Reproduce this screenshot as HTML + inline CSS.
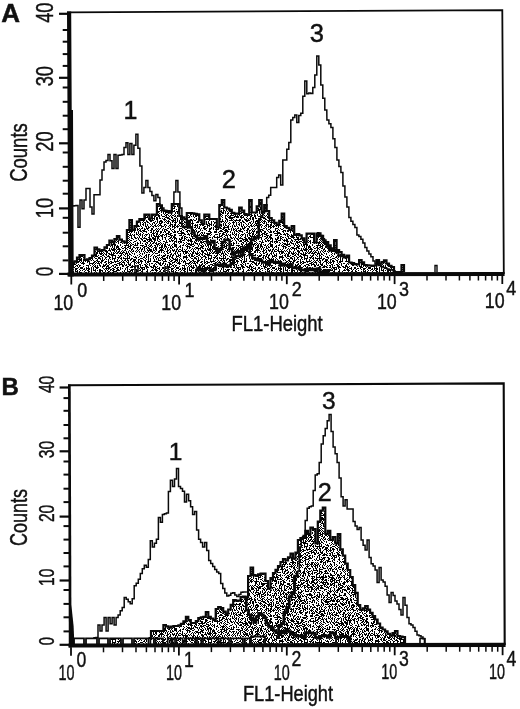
<!DOCTYPE html><html><head><meta charset="utf-8"><title>Figure</title>
<style>html,body{margin:0;padding:0;background:#fff}svg{display:block}text{font-family:"Liberation Sans",sans-serif;fill:#111;stroke:#111;stroke-width:0.45px}</style></head><body>
<svg width="520" height="709" viewBox="0 0 520 709">
<defs><pattern id="st" width="96" height="96" patternUnits="userSpaceOnUse"><rect width="96" height="96" fill="#fff"/><path fill="#000" d="M0 0h2v1h-2zM3 0h1v1h-1zM5 0h2v1h-2zM8 0h1v1h-1zM10 0h2v1h-2zM14 0h2v1h-2zM19 0h1v1h-1zM21 0h1v1h-1zM23 0h4v1h-4zM28 0h1v1h-1zM31 0h1v1h-1zM33 0h3v1h-3zM37 0h2v1h-2zM40 0h2v1h-2zM44 0h1v1h-1zM49 0h1v1h-1zM51 0h1v1h-1zM54 0h1v1h-1zM56 0h1v1h-1zM61 0h1v1h-1zM65 0h1v1h-1zM68 0h1v1h-1zM70 0h1v1h-1zM75 0h1v1h-1zM78 0h1v1h-1zM80 0h3v1h-3zM84 0h2v1h-2zM88 0h1v1h-1zM94 0h1v1h-1zM0 1h1v1h-1zM3 1h4v1h-4zM9 1h2v1h-2zM12 1h1v1h-1zM16 1h1v1h-1zM19 1h1v1h-1zM24 1h1v1h-1zM26 1h1v1h-1zM28 1h11v1h-11zM41 1h5v1h-5zM48 1h1v1h-1zM50 1h4v1h-4zM55 1h2v1h-2zM59 1h1v1h-1zM61 1h1v1h-1zM66 1h3v1h-3zM72 1h2v1h-2zM80 1h1v1h-1zM82 1h5v1h-5zM89 1h1v1h-1zM93 1h3v1h-3zM0 2h2v1h-2zM5 2h1v1h-1zM8 2h1v1h-1zM13 2h2v1h-2zM16 2h1v1h-1zM19 2h1v1h-1zM23 2h3v1h-3zM28 2h1v1h-1zM32 2h1v1h-1zM34 2h2v1h-2zM40 2h1v1h-1zM43 2h4v1h-4zM48 2h1v1h-1zM50 2h1v1h-1zM52 2h1v1h-1zM56 2h1v1h-1zM58 2h1v1h-1zM61 2h1v1h-1zM63 2h2v1h-2zM66 2h1v1h-1zM70 2h1v1h-1zM74 2h1v1h-1zM76 2h2v1h-2zM79 2h1v1h-1zM83 2h1v1h-1zM85 2h1v1h-1zM88 2h1v1h-1zM90 2h1v1h-1zM95 2h1v1h-1zM3 3h2v1h-2zM6 3h3v1h-3zM12 3h1v1h-1zM15 3h1v1h-1zM18 3h1v1h-1zM20 3h1v1h-1zM24 3h1v1h-1zM26 3h4v1h-4zM31 3h1v1h-1zM33 3h3v1h-3zM37 3h2v1h-2zM42 3h3v1h-3zM46 3h2v1h-2zM51 3h2v1h-2zM56 3h2v1h-2zM59 3h2v1h-2zM64 3h1v1h-1zM66 3h1v1h-1zM68 3h2v1h-2zM72 3h2v1h-2zM75 3h7v1h-7zM83 3h1v1h-1zM85 3h5v1h-5zM92 3h1v1h-1zM95 3h1v1h-1zM1 4h1v1h-1zM4 4h1v1h-1zM8 4h1v1h-1zM12 4h5v1h-5zM18 4h3v1h-3zM24 4h3v1h-3zM28 4h1v1h-1zM30 4h1v1h-1zM34 4h1v1h-1zM36 4h3v1h-3zM40 4h1v1h-1zM42 4h1v1h-1zM44 4h3v1h-3zM48 4h4v1h-4zM58 4h2v1h-2zM61 4h1v1h-1zM64 4h1v1h-1zM70 4h1v1h-1zM72 4h1v1h-1zM80 4h5v1h-5zM90 4h2v1h-2zM94 4h1v1h-1zM1 5h1v1h-1zM3 5h3v1h-3zM7 5h1v1h-1zM10 5h1v1h-1zM12 5h1v1h-1zM17 5h3v1h-3zM21 5h1v1h-1zM23 5h3v1h-3zM29 5h1v1h-1zM31 5h1v1h-1zM33 5h1v1h-1zM35 5h1v1h-1zM38 5h1v1h-1zM42 5h3v1h-3zM46 5h1v1h-1zM48 5h1v1h-1zM51 5h1v1h-1zM53 5h1v1h-1zM56 5h1v1h-1zM58 5h3v1h-3zM62 5h5v1h-5zM68 5h1v1h-1zM71 5h1v1h-1zM75 5h2v1h-2zM80 5h1v1h-1zM82 5h3v1h-3zM86 5h1v1h-1zM88 5h2v1h-2zM91 5h2v1h-2zM5 6h1v1h-1zM7 6h1v1h-1zM10 6h2v1h-2zM13 6h1v1h-1zM15 6h2v1h-2zM19 6h1v1h-1zM21 6h1v1h-1zM23 6h4v1h-4zM28 6h2v1h-2zM32 6h8v1h-8zM43 6h1v1h-1zM46 6h4v1h-4zM51 6h1v1h-1zM55 6h3v1h-3zM59 6h1v1h-1zM63 6h2v1h-2zM67 6h1v1h-1zM69 6h1v1h-1zM75 6h3v1h-3zM84 6h1v1h-1zM86 6h1v1h-1zM88 6h1v1h-1zM91 6h3v1h-3zM0 7h2v1h-2zM4 7h2v1h-2zM7 7h2v1h-2zM13 7h3v1h-3zM18 7h2v1h-2zM22 7h2v1h-2zM26 7h3v1h-3zM31 7h1v1h-1zM34 7h2v1h-2zM37 7h1v1h-1zM39 7h2v1h-2zM42 7h1v1h-1zM44 7h3v1h-3zM50 7h1v1h-1zM52 7h1v1h-1zM54 7h3v1h-3zM63 7h2v1h-2zM67 7h1v1h-1zM69 7h7v1h-7zM77 7h1v1h-1zM79 7h2v1h-2zM83 7h2v1h-2zM86 7h1v1h-1zM88 7h2v1h-2zM91 7h1v1h-1zM95 7h1v1h-1zM0 8h2v1h-2zM3 8h1v1h-1zM6 8h2v1h-2zM10 8h1v1h-1zM12 8h3v1h-3zM19 8h2v1h-2zM24 8h2v1h-2zM27 8h1v1h-1zM29 8h1v1h-1zM35 8h3v1h-3zM39 8h2v1h-2zM42 8h3v1h-3zM46 8h1v1h-1zM50 8h3v1h-3zM55 8h2v1h-2zM63 8h1v1h-1zM65 8h1v1h-1zM67 8h1v1h-1zM69 8h4v1h-4zM75 8h1v1h-1zM78 8h2v1h-2zM83 8h1v1h-1zM88 8h4v1h-4zM95 8h1v1h-1zM1 9h2v1h-2zM5 9h1v1h-1zM8 9h5v1h-5zM15 9h3v1h-3zM19 9h3v1h-3zM24 9h2v1h-2zM29 9h2v1h-2zM32 9h3v1h-3zM36 9h1v1h-1zM38 9h1v1h-1zM42 9h2v1h-2zM45 9h2v1h-2zM48 9h1v1h-1zM50 9h1v1h-1zM52 9h3v1h-3zM58 9h1v1h-1zM60 9h1v1h-1zM62 9h2v1h-2zM66 9h1v1h-1zM70 9h2v1h-2zM74 9h2v1h-2zM77 9h1v1h-1zM81 9h1v1h-1zM83 9h1v1h-1zM87 9h2v1h-2zM90 9h1v1h-1zM92 9h2v1h-2zM0 10h1v1h-1zM3 10h1v1h-1zM5 10h1v1h-1zM9 10h1v1h-1zM12 10h1v1h-1zM14 10h1v1h-1zM16 10h1v1h-1zM18 10h2v1h-2zM22 10h2v1h-2zM25 10h2v1h-2zM28 10h1v1h-1zM30 10h2v1h-2zM33 10h1v1h-1zM36 10h2v1h-2zM39 10h1v1h-1zM41 10h1v1h-1zM46 10h1v1h-1zM48 10h1v1h-1zM51 10h1v1h-1zM54 10h2v1h-2zM57 10h1v1h-1zM59 10h1v1h-1zM61 10h1v1h-1zM64 10h2v1h-2zM67 10h4v1h-4zM74 10h1v1h-1zM76 10h1v1h-1zM79 10h1v1h-1zM84 10h1v1h-1zM87 10h1v1h-1zM89 10h1v1h-1zM92 10h1v1h-1zM94 10h2v1h-2zM1 11h1v1h-1zM3 11h1v1h-1zM8 11h4v1h-4zM13 11h1v1h-1zM16 11h2v1h-2zM19 11h6v1h-6zM27 11h1v1h-1zM29 11h2v1h-2zM32 11h3v1h-3zM38 11h3v1h-3zM43 11h1v1h-1zM45 11h1v1h-1zM48 11h1v1h-1zM50 11h1v1h-1zM52 11h3v1h-3zM56 11h1v1h-1zM59 11h2v1h-2zM62 11h1v1h-1zM65 11h4v1h-4zM72 11h1v1h-1zM75 11h1v1h-1zM77 11h6v1h-6zM87 11h1v1h-1zM89 11h1v1h-1zM92 11h1v1h-1zM95 11h1v1h-1zM1 12h3v1h-3zM7 12h1v1h-1zM9 12h2v1h-2zM16 12h1v1h-1zM20 12h1v1h-1zM23 12h2v1h-2zM26 12h1v1h-1zM28 12h3v1h-3zM32 12h4v1h-4zM40 12h1v1h-1zM42 12h1v1h-1zM46 12h1v1h-1zM50 12h4v1h-4zM59 12h3v1h-3zM63 12h2v1h-2zM66 12h3v1h-3zM70 12h2v1h-2zM73 12h1v1h-1zM76 12h1v1h-1zM78 12h1v1h-1zM80 12h1v1h-1zM83 12h1v1h-1zM85 12h1v1h-1zM87 12h3v1h-3zM92 12h1v1h-1zM94 12h1v1h-1zM0 13h1v1h-1zM2 13h1v1h-1zM4 13h1v1h-1zM6 13h2v1h-2zM9 13h2v1h-2zM12 13h1v1h-1zM17 13h1v1h-1zM19 13h1v1h-1zM21 13h1v1h-1zM23 13h3v1h-3zM27 13h2v1h-2zM30 13h1v1h-1zM36 13h3v1h-3zM42 13h1v1h-1zM46 13h1v1h-1zM49 13h3v1h-3zM54 13h4v1h-4zM59 13h3v1h-3zM64 13h1v1h-1zM66 13h1v1h-1zM71 13h2v1h-2zM74 13h2v1h-2zM77 13h1v1h-1zM81 13h1v1h-1zM83 13h2v1h-2zM86 13h1v1h-1zM89 13h1v1h-1zM92 13h2v1h-2zM5 14h2v1h-2zM8 14h1v1h-1zM13 14h1v1h-1zM15 14h1v1h-1zM17 14h1v1h-1zM20 14h1v1h-1zM23 14h1v1h-1zM26 14h1v1h-1zM28 14h1v1h-1zM31 14h2v1h-2zM36 14h1v1h-1zM40 14h1v1h-1zM42 14h1v1h-1zM44 14h1v1h-1zM46 14h1v1h-1zM48 14h3v1h-3zM52 14h1v1h-1zM54 14h1v1h-1zM56 14h3v1h-3zM62 14h1v1h-1zM64 14h3v1h-3zM70 14h1v1h-1zM72 14h1v1h-1zM74 14h1v1h-1zM78 14h2v1h-2zM81 14h1v1h-1zM83 14h1v1h-1zM85 14h3v1h-3zM89 14h2v1h-2zM92 14h3v1h-3zM0 15h1v1h-1zM3 15h1v1h-1zM6 15h1v1h-1zM10 15h1v1h-1zM13 15h2v1h-2zM17 15h4v1h-4zM22 15h2v1h-2zM26 15h1v1h-1zM34 15h1v1h-1zM38 15h1v1h-1zM41 15h3v1h-3zM45 15h1v1h-1zM47 15h1v1h-1zM49 15h1v1h-1zM52 15h1v1h-1zM54 15h1v1h-1zM58 15h1v1h-1zM61 15h1v1h-1zM64 15h1v1h-1zM68 15h1v1h-1zM70 15h1v1h-1zM73 15h1v1h-1zM76 15h1v1h-1zM78 15h1v1h-1zM82 15h1v1h-1zM84 15h1v1h-1zM87 15h1v1h-1zM89 15h1v1h-1zM91 15h1v1h-1zM0 16h3v1h-3zM6 16h1v1h-1zM10 16h4v1h-4zM25 16h1v1h-1zM27 16h1v1h-1zM29 16h3v1h-3zM35 16h1v1h-1zM39 16h2v1h-2zM42 16h1v1h-1zM46 16h1v1h-1zM48 16h2v1h-2zM53 16h2v1h-2zM59 16h1v1h-1zM61 16h1v1h-1zM63 16h4v1h-4zM68 16h1v1h-1zM70 16h1v1h-1zM72 16h2v1h-2zM75 16h1v1h-1zM77 16h2v1h-2zM83 16h1v1h-1zM86 16h1v1h-1zM88 16h1v1h-1zM91 16h2v1h-2zM95 16h1v1h-1zM0 17h1v1h-1zM2 17h1v1h-1zM4 17h3v1h-3zM8 17h1v1h-1zM10 17h1v1h-1zM12 17h1v1h-1zM15 17h1v1h-1zM21 17h2v1h-2zM26 17h1v1h-1zM31 17h1v1h-1zM34 17h1v1h-1zM39 17h3v1h-3zM46 17h1v1h-1zM51 17h1v1h-1zM56 17h2v1h-2zM60 17h1v1h-1zM63 17h1v1h-1zM66 17h3v1h-3zM71 17h2v1h-2zM75 17h1v1h-1zM80 17h1v1h-1zM82 17h3v1h-3zM86 17h1v1h-1zM88 17h1v1h-1zM90 17h2v1h-2zM93 17h2v1h-2zM1 18h1v1h-1zM3 18h1v1h-1zM5 18h2v1h-2zM9 18h1v1h-1zM11 18h1v1h-1zM13 18h1v1h-1zM18 18h6v1h-6zM26 18h1v1h-1zM29 18h1v1h-1zM31 18h2v1h-2zM34 18h1v1h-1zM39 18h1v1h-1zM41 18h1v1h-1zM44 18h4v1h-4zM51 18h1v1h-1zM56 18h2v1h-2zM61 18h1v1h-1zM64 18h4v1h-4zM69 18h3v1h-3zM73 18h1v1h-1zM75 18h2v1h-2zM78 18h1v1h-1zM82 18h1v1h-1zM84 18h1v1h-1zM88 18h2v1h-2zM91 18h1v1h-1zM93 18h3v1h-3zM2 19h1v1h-1zM4 19h1v1h-1zM6 19h2v1h-2zM9 19h2v1h-2zM12 19h1v1h-1zM14 19h1v1h-1zM16 19h1v1h-1zM19 19h1v1h-1zM21 19h4v1h-4zM28 19h2v1h-2zM31 19h1v1h-1zM33 19h1v1h-1zM35 19h1v1h-1zM37 19h3v1h-3zM42 19h1v1h-1zM45 19h1v1h-1zM47 19h2v1h-2zM51 19h3v1h-3zM55 19h3v1h-3zM62 19h2v1h-2zM65 19h1v1h-1zM67 19h1v1h-1zM69 19h1v1h-1zM72 19h2v1h-2zM75 19h1v1h-1zM77 19h2v1h-2zM80 19h3v1h-3zM84 19h1v1h-1zM86 19h1v1h-1zM88 19h1v1h-1zM92 19h1v1h-1zM94 19h1v1h-1zM0 20h1v1h-1zM3 20h1v1h-1zM7 20h1v1h-1zM9 20h4v1h-4zM14 20h2v1h-2zM17 20h2v1h-2zM23 20h1v1h-1zM26 20h2v1h-2zM29 20h3v1h-3zM33 20h1v1h-1zM36 20h1v1h-1zM39 20h1v1h-1zM42 20h1v1h-1zM46 20h1v1h-1zM49 20h3v1h-3zM58 20h1v1h-1zM62 20h1v1h-1zM65 20h1v1h-1zM67 20h1v1h-1zM69 20h3v1h-3zM79 20h1v1h-1zM81 20h1v1h-1zM83 20h1v1h-1zM87 20h1v1h-1zM89 20h1v1h-1zM91 20h2v1h-2zM94 20h1v1h-1zM1 21h2v1h-2zM5 21h4v1h-4zM10 21h3v1h-3zM18 21h1v1h-1zM20 21h1v1h-1zM23 21h4v1h-4zM28 21h1v1h-1zM30 21h2v1h-2zM33 21h1v1h-1zM35 21h2v1h-2zM38 21h1v1h-1zM40 21h2v1h-2zM43 21h2v1h-2zM46 21h1v1h-1zM48 21h2v1h-2zM52 21h3v1h-3zM59 21h1v1h-1zM63 21h1v1h-1zM67 21h1v1h-1zM69 21h1v1h-1zM72 21h1v1h-1zM75 21h1v1h-1zM79 21h1v1h-1zM81 21h1v1h-1zM83 21h1v1h-1zM86 21h2v1h-2zM90 21h1v1h-1zM92 21h3v1h-3zM1 22h1v1h-1zM3 22h1v1h-1zM7 22h1v1h-1zM10 22h2v1h-2zM13 22h1v1h-1zM18 22h1v1h-1zM21 22h2v1h-2zM24 22h1v1h-1zM28 22h2v1h-2zM35 22h1v1h-1zM39 22h1v1h-1zM42 22h2v1h-2zM46 22h2v1h-2zM53 22h3v1h-3zM57 22h3v1h-3zM62 22h1v1h-1zM65 22h1v1h-1zM68 22h1v1h-1zM70 22h2v1h-2zM75 22h1v1h-1zM78 22h1v1h-1zM83 22h3v1h-3zM87 22h3v1h-3zM94 22h2v1h-2zM1 23h1v1h-1zM3 23h4v1h-4zM9 23h1v1h-1zM11 23h2v1h-2zM16 23h1v1h-1zM18 23h2v1h-2zM22 23h1v1h-1zM25 23h1v1h-1zM28 23h1v1h-1zM30 23h1v1h-1zM33 23h2v1h-2zM36 23h1v1h-1zM38 23h4v1h-4zM43 23h1v1h-1zM45 23h1v1h-1zM47 23h1v1h-1zM49 23h2v1h-2zM52 23h6v1h-6zM59 23h2v1h-2zM62 23h2v1h-2zM65 23h1v1h-1zM69 23h2v1h-2zM72 23h1v1h-1zM74 23h1v1h-1zM76 23h2v1h-2zM79 23h1v1h-1zM81 23h1v1h-1zM84 23h2v1h-2zM87 23h1v1h-1zM89 23h1v1h-1zM92 23h1v1h-1zM94 23h1v1h-1zM1 24h1v1h-1zM3 24h2v1h-2zM6 24h1v1h-1zM8 24h1v1h-1zM10 24h1v1h-1zM12 24h5v1h-5zM18 24h1v1h-1zM24 24h3v1h-3zM29 24h1v1h-1zM33 24h1v1h-1zM35 24h1v1h-1zM37 24h2v1h-2zM42 24h5v1h-5zM48 24h2v1h-2zM51 24h1v1h-1zM55 24h1v1h-1zM58 24h2v1h-2zM62 24h2v1h-2zM66 24h3v1h-3zM70 24h1v1h-1zM73 24h1v1h-1zM75 24h1v1h-1zM78 24h2v1h-2zM81 24h1v1h-1zM87 24h2v1h-2zM90 24h1v1h-1zM93 24h1v1h-1zM95 24h1v1h-1zM2 25h1v1h-1zM7 25h3v1h-3zM11 25h3v1h-3zM16 25h2v1h-2zM19 25h1v1h-1zM21 25h2v1h-2zM24 25h1v1h-1zM26 25h1v1h-1zM30 25h1v1h-1zM33 25h1v1h-1zM36 25h7v1h-7zM44 25h3v1h-3zM48 25h4v1h-4zM54 25h1v1h-1zM58 25h1v1h-1zM60 25h2v1h-2zM63 25h1v1h-1zM69 25h4v1h-4zM75 25h2v1h-2zM80 25h1v1h-1zM84 25h2v1h-2zM87 25h2v1h-2zM90 25h1v1h-1zM92 25h2v1h-2zM4 26h1v1h-1zM6 26h2v1h-2zM9 26h1v1h-1zM11 26h1v1h-1zM14 26h2v1h-2zM17 26h1v1h-1zM19 26h1v1h-1zM23 26h2v1h-2zM26 26h1v1h-1zM28 26h1v1h-1zM33 26h2v1h-2zM37 26h4v1h-4zM49 26h1v1h-1zM52 26h1v1h-1zM55 26h1v1h-1zM57 26h2v1h-2zM60 26h2v1h-2zM63 26h2v1h-2zM66 26h1v1h-1zM68 26h1v1h-1zM71 26h3v1h-3zM76 26h1v1h-1zM78 26h2v1h-2zM81 26h1v1h-1zM84 26h1v1h-1zM86 26h1v1h-1zM89 26h1v1h-1zM91 26h1v1h-1zM1 27h1v1h-1zM4 27h1v1h-1zM6 27h2v1h-2zM11 27h1v1h-1zM13 27h4v1h-4zM18 27h2v1h-2zM21 27h1v1h-1zM28 27h1v1h-1zM30 27h1v1h-1zM34 27h2v1h-2zM39 27h1v1h-1zM41 27h1v1h-1zM44 27h1v1h-1zM47 27h2v1h-2zM52 27h3v1h-3zM56 27h1v1h-1zM58 27h1v1h-1zM60 27h2v1h-2zM67 27h3v1h-3zM73 27h2v1h-2zM77 27h1v1h-1zM79 27h1v1h-1zM81 27h1v1h-1zM84 27h3v1h-3zM89 27h3v1h-3zM94 27h2v1h-2zM0 28h1v1h-1zM2 28h2v1h-2zM6 28h2v1h-2zM9 28h2v1h-2zM12 28h1v1h-1zM17 28h1v1h-1zM24 28h2v1h-2zM30 28h1v1h-1zM33 28h1v1h-1zM35 28h1v1h-1zM37 28h4v1h-4zM42 28h7v1h-7zM50 28h1v1h-1zM53 28h5v1h-5zM61 28h1v1h-1zM64 28h2v1h-2zM68 28h1v1h-1zM70 28h1v1h-1zM72 28h1v1h-1zM75 28h5v1h-5zM81 28h1v1h-1zM83 28h1v1h-1zM87 28h1v1h-1zM91 28h1v1h-1zM94 28h2v1h-2zM0 29h1v1h-1zM5 29h2v1h-2zM9 29h1v1h-1zM11 29h2v1h-2zM14 29h1v1h-1zM16 29h1v1h-1zM19 29h1v1h-1zM21 29h1v1h-1zM25 29h1v1h-1zM28 29h4v1h-4zM33 29h1v1h-1zM35 29h1v1h-1zM41 29h1v1h-1zM43 29h1v1h-1zM47 29h1v1h-1zM50 29h2v1h-2zM54 29h2v1h-2zM59 29h1v1h-1zM61 29h1v1h-1zM63 29h4v1h-4zM69 29h1v1h-1zM71 29h3v1h-3zM76 29h2v1h-2zM79 29h1v1h-1zM81 29h1v1h-1zM83 29h1v1h-1zM85 29h2v1h-2zM88 29h1v1h-1zM90 29h1v1h-1zM92 29h1v1h-1zM94 29h1v1h-1zM0 30h1v1h-1zM4 30h3v1h-3zM8 30h2v1h-2zM12 30h1v1h-1zM14 30h1v1h-1zM16 30h1v1h-1zM19 30h1v1h-1zM22 30h2v1h-2zM26 30h1v1h-1zM29 30h1v1h-1zM32 30h1v1h-1zM34 30h1v1h-1zM37 30h1v1h-1zM40 30h3v1h-3zM44 30h1v1h-1zM46 30h1v1h-1zM48 30h2v1h-2zM51 30h2v1h-2zM57 30h2v1h-2zM61 30h1v1h-1zM63 30h1v1h-1zM65 30h2v1h-2zM68 30h1v1h-1zM70 30h1v1h-1zM72 30h1v1h-1zM74 30h1v1h-1zM76 30h1v1h-1zM78 30h3v1h-3zM83 30h2v1h-2zM88 30h5v1h-5zM94 30h1v1h-1zM0 31h2v1h-2zM10 31h2v1h-2zM14 31h1v1h-1zM16 31h2v1h-2zM19 31h1v1h-1zM22 31h1v1h-1zM24 31h4v1h-4zM31 31h1v1h-1zM33 31h1v1h-1zM36 31h1v1h-1zM38 31h1v1h-1zM41 31h1v1h-1zM44 31h1v1h-1zM47 31h1v1h-1zM49 31h1v1h-1zM53 31h1v1h-1zM56 31h1v1h-1zM58 31h1v1h-1zM60 31h1v1h-1zM63 31h3v1h-3zM71 31h2v1h-2zM74 31h1v1h-1zM79 31h1v1h-1zM83 31h5v1h-5zM90 31h2v1h-2zM95 31h1v1h-1zM0 32h1v1h-1zM3 32h1v1h-1zM5 32h1v1h-1zM7 32h3v1h-3zM11 32h2v1h-2zM14 32h2v1h-2zM17 32h3v1h-3zM21 32h1v1h-1zM24 32h1v1h-1zM28 32h2v1h-2zM31 32h1v1h-1zM33 32h1v1h-1zM37 32h1v1h-1zM41 32h1v1h-1zM44 32h1v1h-1zM46 32h2v1h-2zM49 32h1v1h-1zM51 32h1v1h-1zM54 32h1v1h-1zM56 32h1v1h-1zM59 32h1v1h-1zM62 32h1v1h-1zM64 32h1v1h-1zM68 32h2v1h-2zM74 32h3v1h-3zM78 32h2v1h-2zM82 32h1v1h-1zM85 32h2v1h-2zM88 32h1v1h-1zM93 32h2v1h-2zM0 33h1v1h-1zM2 33h4v1h-4zM8 33h1v1h-1zM10 33h2v1h-2zM15 33h3v1h-3zM19 33h1v1h-1zM21 33h1v1h-1zM23 33h1v1h-1zM25 33h1v1h-1zM28 33h2v1h-2zM31 33h1v1h-1zM33 33h2v1h-2zM36 33h1v1h-1zM40 33h1v1h-1zM42 33h1v1h-1zM44 33h1v1h-1zM47 33h1v1h-1zM49 33h1v1h-1zM51 33h1v1h-1zM55 33h1v1h-1zM58 33h2v1h-2zM61 33h1v1h-1zM63 33h3v1h-3zM68 33h1v1h-1zM70 33h1v1h-1zM73 33h2v1h-2zM76 33h1v1h-1zM78 33h2v1h-2zM81 33h1v1h-1zM83 33h1v1h-1zM85 33h1v1h-1zM87 33h1v1h-1zM90 33h3v1h-3zM94 33h1v1h-1zM0 34h1v1h-1zM3 34h1v1h-1zM5 34h1v1h-1zM7 34h1v1h-1zM12 34h2v1h-2zM15 34h1v1h-1zM17 34h1v1h-1zM22 34h3v1h-3zM27 34h1v1h-1zM29 34h1v1h-1zM32 34h1v1h-1zM35 34h2v1h-2zM38 34h1v1h-1zM40 34h1v1h-1zM42 34h2v1h-2zM45 34h1v1h-1zM49 34h2v1h-2zM52 34h1v1h-1zM54 34h1v1h-1zM56 34h2v1h-2zM59 34h2v1h-2zM62 34h1v1h-1zM65 34h3v1h-3zM69 34h1v1h-1zM72 34h1v1h-1zM74 34h1v1h-1zM76 34h3v1h-3zM80 34h3v1h-3zM84 34h1v1h-1zM86 34h1v1h-1zM88 34h1v1h-1zM92 34h1v1h-1zM94 34h2v1h-2zM0 35h1v1h-1zM2 35h2v1h-2zM5 35h1v1h-1zM7 35h1v1h-1zM11 35h2v1h-2zM15 35h1v1h-1zM19 35h1v1h-1zM21 35h1v1h-1zM23 35h1v1h-1zM25 35h1v1h-1zM27 35h2v1h-2zM31 35h6v1h-6zM40 35h1v1h-1zM46 35h1v1h-1zM50 35h1v1h-1zM52 35h2v1h-2zM57 35h1v1h-1zM65 35h1v1h-1zM69 35h1v1h-1zM73 35h1v1h-1zM76 35h1v1h-1zM78 35h2v1h-2zM81 35h1v1h-1zM86 35h1v1h-1zM92 35h2v1h-2zM0 36h1v1h-1zM4 36h1v1h-1zM6 36h2v1h-2zM9 36h1v1h-1zM11 36h4v1h-4zM17 36h3v1h-3zM21 36h1v1h-1zM24 36h1v1h-1zM26 36h1v1h-1zM28 36h2v1h-2zM31 36h2v1h-2zM36 36h1v1h-1zM39 36h1v1h-1zM41 36h1v1h-1zM43 36h1v1h-1zM45 36h2v1h-2zM48 36h1v1h-1zM50 36h3v1h-3zM55 36h2v1h-2zM60 36h1v1h-1zM62 36h1v1h-1zM64 36h1v1h-1zM67 36h1v1h-1zM71 36h2v1h-2zM74 36h1v1h-1zM78 36h1v1h-1zM83 36h3v1h-3zM88 36h1v1h-1zM91 36h1v1h-1zM95 36h1v1h-1zM1 37h1v1h-1zM3 37h1v1h-1zM8 37h1v1h-1zM12 37h2v1h-2zM17 37h2v1h-2zM21 37h1v1h-1zM23 37h4v1h-4zM30 37h2v1h-2zM33 37h2v1h-2zM36 37h2v1h-2zM39 37h1v1h-1zM41 37h2v1h-2zM44 37h1v1h-1zM48 37h2v1h-2zM51 37h1v1h-1zM55 37h2v1h-2zM59 37h1v1h-1zM61 37h1v1h-1zM63 37h1v1h-1zM66 37h1v1h-1zM68 37h3v1h-3zM74 37h1v1h-1zM76 37h2v1h-2zM83 37h1v1h-1zM86 37h1v1h-1zM89 37h2v1h-2zM0 38h3v1h-3zM4 38h1v1h-1zM8 38h1v1h-1zM10 38h1v1h-1zM14 38h1v1h-1zM17 38h1v1h-1zM24 38h1v1h-1zM28 38h2v1h-2zM32 38h4v1h-4zM39 38h1v1h-1zM41 38h1v1h-1zM43 38h2v1h-2zM46 38h3v1h-3zM52 38h1v1h-1zM54 38h2v1h-2zM57 38h2v1h-2zM60 38h1v1h-1zM62 38h1v1h-1zM66 38h1v1h-1zM68 38h1v1h-1zM70 38h2v1h-2zM75 38h1v1h-1zM78 38h1v1h-1zM83 38h1v1h-1zM85 38h1v1h-1zM87 38h1v1h-1zM91 38h3v1h-3zM95 38h1v1h-1zM0 39h1v1h-1zM2 39h1v1h-1zM4 39h1v1h-1zM6 39h2v1h-2zM16 39h3v1h-3zM22 39h3v1h-3zM27 39h4v1h-4zM33 39h4v1h-4zM38 39h1v1h-1zM42 39h1v1h-1zM44 39h2v1h-2zM47 39h4v1h-4zM55 39h1v1h-1zM57 39h1v1h-1zM60 39h3v1h-3zM64 39h2v1h-2zM68 39h2v1h-2zM72 39h2v1h-2zM76 39h1v1h-1zM78 39h2v1h-2zM81 39h2v1h-2zM84 39h2v1h-2zM90 39h2v1h-2zM93 39h1v1h-1zM95 39h1v1h-1zM2 40h1v1h-1zM5 40h2v1h-2zM9 40h2v1h-2zM12 40h1v1h-1zM18 40h2v1h-2zM22 40h3v1h-3zM26 40h1v1h-1zM31 40h3v1h-3zM35 40h1v1h-1zM38 40h1v1h-1zM40 40h1v1h-1zM42 40h1v1h-1zM46 40h1v1h-1zM50 40h1v1h-1zM54 40h2v1h-2zM57 40h1v1h-1zM59 40h1v1h-1zM61 40h1v1h-1zM64 40h2v1h-2zM67 40h1v1h-1zM69 40h1v1h-1zM72 40h2v1h-2zM77 40h3v1h-3zM81 40h1v1h-1zM85 40h3v1h-3zM91 40h1v1h-1zM5 41h1v1h-1zM8 41h1v1h-1zM10 41h1v1h-1zM12 41h1v1h-1zM14 41h5v1h-5zM27 41h2v1h-2zM30 41h2v1h-2zM34 41h1v1h-1zM40 41h1v1h-1zM42 41h1v1h-1zM44 41h1v1h-1zM47 41h1v1h-1zM52 41h1v1h-1zM56 41h3v1h-3zM60 41h2v1h-2zM64 41h1v1h-1zM70 41h3v1h-3zM74 41h2v1h-2zM82 41h7v1h-7zM92 41h1v1h-1zM94 41h2v1h-2zM0 42h1v1h-1zM3 42h1v1h-1zM5 42h1v1h-1zM7 42h1v1h-1zM9 42h1v1h-1zM11 42h1v1h-1zM15 42h3v1h-3zM19 42h1v1h-1zM23 42h3v1h-3zM27 42h1v1h-1zM30 42h3v1h-3zM34 42h1v1h-1zM36 42h1v1h-1zM38 42h1v1h-1zM40 42h2v1h-2zM43 42h2v1h-2zM46 42h1v1h-1zM49 42h3v1h-3zM53 42h1v1h-1zM55 42h1v1h-1zM57 42h1v1h-1zM60 42h2v1h-2zM63 42h1v1h-1zM66 42h2v1h-2zM69 42h2v1h-2zM72 42h3v1h-3zM78 42h2v1h-2zM85 42h1v1h-1zM88 42h2v1h-2zM91 42h3v1h-3zM95 42h1v1h-1zM1 43h1v1h-1zM3 43h2v1h-2zM6 43h2v1h-2zM9 43h3v1h-3zM13 43h2v1h-2zM18 43h1v1h-1zM22 43h1v1h-1zM27 43h1v1h-1zM29 43h2v1h-2zM33 43h3v1h-3zM37 43h2v1h-2zM42 43h1v1h-1zM44 43h1v1h-1zM46 43h1v1h-1zM48 43h1v1h-1zM50 43h1v1h-1zM53 43h1v1h-1zM55 43h1v1h-1zM57 43h2v1h-2zM60 43h1v1h-1zM62 43h1v1h-1zM64 43h3v1h-3zM68 43h1v1h-1zM70 43h1v1h-1zM74 43h3v1h-3zM78 43h2v1h-2zM83 43h3v1h-3zM87 43h1v1h-1zM93 43h1v1h-1zM95 43h1v1h-1zM0 44h1v1h-1zM2 44h4v1h-4zM8 44h1v1h-1zM13 44h3v1h-3zM21 44h2v1h-2zM25 44h1v1h-1zM27 44h3v1h-3zM32 44h1v1h-1zM35 44h1v1h-1zM38 44h1v1h-1zM43 44h1v1h-1zM46 44h1v1h-1zM49 44h1v1h-1zM53 44h1v1h-1zM55 44h1v1h-1zM58 44h6v1h-6zM65 44h2v1h-2zM70 44h1v1h-1zM72 44h2v1h-2zM75 44h1v1h-1zM77 44h2v1h-2zM86 44h1v1h-1zM88 44h2v1h-2zM95 44h1v1h-1zM0 45h1v1h-1zM3 45h4v1h-4zM8 45h3v1h-3zM13 45h2v1h-2zM17 45h2v1h-2zM20 45h1v1h-1zM22 45h6v1h-6zM30 45h1v1h-1zM33 45h1v1h-1zM35 45h1v1h-1zM38 45h2v1h-2zM41 45h1v1h-1zM43 45h1v1h-1zM46 45h1v1h-1zM48 45h1v1h-1zM52 45h2v1h-2zM56 45h2v1h-2zM59 45h1v1h-1zM61 45h2v1h-2zM66 45h1v1h-1zM68 45h2v1h-2zM74 45h2v1h-2zM77 45h3v1h-3zM85 45h2v1h-2zM88 45h1v1h-1zM90 45h2v1h-2zM93 45h1v1h-1zM0 46h3v1h-3zM5 46h1v1h-1zM9 46h2v1h-2zM12 46h2v1h-2zM15 46h2v1h-2zM20 46h1v1h-1zM25 46h1v1h-1zM28 46h2v1h-2zM32 46h1v1h-1zM35 46h2v1h-2zM39 46h2v1h-2zM42 46h1v1h-1zM44 46h2v1h-2zM47 46h4v1h-4zM53 46h2v1h-2zM56 46h4v1h-4zM61 46h2v1h-2zM66 46h1v1h-1zM69 46h1v1h-1zM73 46h2v1h-2zM76 46h1v1h-1zM78 46h3v1h-3zM83 46h1v1h-1zM85 46h2v1h-2zM88 46h2v1h-2zM94 46h1v1h-1zM3 47h1v1h-1zM6 47h7v1h-7zM14 47h1v1h-1zM18 47h1v1h-1zM25 47h1v1h-1zM27 47h1v1h-1zM29 47h1v1h-1zM31 47h1v1h-1zM33 47h1v1h-1zM37 47h1v1h-1zM42 47h1v1h-1zM45 47h2v1h-2zM50 47h6v1h-6zM57 47h3v1h-3zM61 47h1v1h-1zM63 47h1v1h-1zM66 47h1v1h-1zM69 47h1v1h-1zM72 47h1v1h-1zM75 47h1v1h-1zM78 47h1v1h-1zM80 47h1v1h-1zM83 47h3v1h-3zM88 47h1v1h-1zM90 47h1v1h-1zM92 47h1v1h-1zM94 47h2v1h-2zM3 48h2v1h-2zM7 48h1v1h-1zM10 48h1v1h-1zM14 48h3v1h-3zM18 48h1v1h-1zM20 48h1v1h-1zM22 48h1v1h-1zM27 48h1v1h-1zM32 48h1v1h-1zM34 48h2v1h-2zM40 48h1v1h-1zM43 48h1v1h-1zM46 48h1v1h-1zM48 48h2v1h-2zM51 48h1v1h-1zM53 48h3v1h-3zM58 48h2v1h-2zM61 48h1v1h-1zM64 48h1v1h-1zM70 48h1v1h-1zM73 48h1v1h-1zM75 48h3v1h-3zM80 48h1v1h-1zM84 48h1v1h-1zM86 48h3v1h-3zM91 48h5v1h-5zM0 49h1v1h-1zM2 49h1v1h-1zM4 49h1v1h-1zM6 49h1v1h-1zM8 49h2v1h-2zM11 49h3v1h-3zM16 49h2v1h-2zM19 49h1v1h-1zM21 49h2v1h-2zM25 49h1v1h-1zM28 49h1v1h-1zM31 49h1v1h-1zM33 49h1v1h-1zM38 49h2v1h-2zM44 49h1v1h-1zM47 49h3v1h-3zM52 49h2v1h-2zM55 49h2v1h-2zM58 49h1v1h-1zM62 49h2v1h-2zM67 49h2v1h-2zM70 49h1v1h-1zM73 49h2v1h-2zM76 49h1v1h-1zM78 49h3v1h-3zM82 49h4v1h-4zM92 49h1v1h-1zM94 49h2v1h-2zM2 50h2v1h-2zM8 50h4v1h-4zM14 50h3v1h-3zM20 50h1v1h-1zM22 50h1v1h-1zM24 50h2v1h-2zM29 50h4v1h-4zM34 50h1v1h-1zM37 50h1v1h-1zM41 50h1v1h-1zM44 50h1v1h-1zM50 50h2v1h-2zM54 50h1v1h-1zM57 50h2v1h-2zM60 50h1v1h-1zM64 50h1v1h-1zM69 50h3v1h-3zM78 50h1v1h-1zM80 50h1v1h-1zM82 50h1v1h-1zM84 50h2v1h-2zM87 50h1v1h-1zM90 50h1v1h-1zM95 50h1v1h-1zM1 51h1v1h-1zM3 51h3v1h-3zM7 51h1v1h-1zM9 51h1v1h-1zM12 51h1v1h-1zM15 51h1v1h-1zM17 51h2v1h-2zM22 51h1v1h-1zM26 51h1v1h-1zM28 51h1v1h-1zM30 51h2v1h-2zM33 51h1v1h-1zM35 51h1v1h-1zM39 51h1v1h-1zM41 51h2v1h-2zM44 51h1v1h-1zM46 51h1v1h-1zM49 51h1v1h-1zM51 51h1v1h-1zM54 51h1v1h-1zM56 51h2v1h-2zM59 51h2v1h-2zM62 51h2v1h-2zM65 51h1v1h-1zM67 51h1v1h-1zM69 51h1v1h-1zM77 51h2v1h-2zM83 51h1v1h-1zM88 51h1v1h-1zM91 51h3v1h-3zM95 51h1v1h-1zM0 52h2v1h-2zM5 52h1v1h-1zM7 52h1v1h-1zM10 52h1v1h-1zM13 52h1v1h-1zM15 52h5v1h-5zM24 52h1v1h-1zM30 52h1v1h-1zM32 52h1v1h-1zM34 52h1v1h-1zM36 52h2v1h-2zM39 52h1v1h-1zM41 52h1v1h-1zM49 52h2v1h-2zM53 52h1v1h-1zM55 52h1v1h-1zM60 52h3v1h-3zM64 52h1v1h-1zM66 52h1v1h-1zM68 52h2v1h-2zM71 52h1v1h-1zM73 52h1v1h-1zM76 52h1v1h-1zM78 52h3v1h-3zM87 52h1v1h-1zM90 52h1v1h-1zM92 52h4v1h-4zM2 53h1v1h-1zM6 53h1v1h-1zM8 53h2v1h-2zM11 53h1v1h-1zM13 53h1v1h-1zM15 53h2v1h-2zM18 53h2v1h-2zM21 53h1v1h-1zM24 53h1v1h-1zM28 53h5v1h-5zM34 53h2v1h-2zM38 53h4v1h-4zM44 53h4v1h-4zM50 53h1v1h-1zM52 53h1v1h-1zM54 53h2v1h-2zM58 53h2v1h-2zM61 53h1v1h-1zM63 53h1v1h-1zM65 53h2v1h-2zM68 53h2v1h-2zM72 53h2v1h-2zM75 53h1v1h-1zM78 53h3v1h-3zM84 53h1v1h-1zM86 53h2v1h-2zM89 53h1v1h-1zM91 53h1v1h-1zM94 53h2v1h-2zM0 54h2v1h-2zM6 54h1v1h-1zM9 54h3v1h-3zM14 54h1v1h-1zM16 54h1v1h-1zM18 54h1v1h-1zM20 54h3v1h-3zM26 54h1v1h-1zM29 54h1v1h-1zM32 54h3v1h-3zM37 54h1v1h-1zM46 54h1v1h-1zM48 54h3v1h-3zM53 54h2v1h-2zM56 54h1v1h-1zM59 54h1v1h-1zM61 54h1v1h-1zM65 54h2v1h-2zM68 54h3v1h-3zM74 54h1v1h-1zM76 54h1v1h-1zM78 54h3v1h-3zM83 54h2v1h-2zM90 54h4v1h-4zM3 55h3v1h-3zM8 55h3v1h-3zM16 55h1v1h-1zM18 55h1v1h-1zM20 55h3v1h-3zM25 55h1v1h-1zM28 55h2v1h-2zM31 55h2v1h-2zM34 55h1v1h-1zM37 55h2v1h-2zM40 55h3v1h-3zM44 55h1v1h-1zM47 55h2v1h-2zM51 55h2v1h-2zM55 55h1v1h-1zM58 55h3v1h-3zM63 55h4v1h-4zM68 55h1v1h-1zM70 55h1v1h-1zM72 55h1v1h-1zM74 55h1v1h-1zM76 55h2v1h-2zM80 55h1v1h-1zM82 55h1v1h-1zM84 55h1v1h-1zM86 55h1v1h-1zM91 55h1v1h-1zM93 55h2v1h-2zM0 56h1v1h-1zM2 56h1v1h-1zM4 56h5v1h-5zM10 56h2v1h-2zM13 56h1v1h-1zM15 56h1v1h-1zM17 56h2v1h-2zM20 56h1v1h-1zM22 56h2v1h-2zM26 56h2v1h-2zM29 56h2v1h-2zM33 56h2v1h-2zM36 56h1v1h-1zM39 56h1v1h-1zM41 56h1v1h-1zM44 56h1v1h-1zM46 56h1v1h-1zM48 56h1v1h-1zM50 56h1v1h-1zM52 56h2v1h-2zM57 56h1v1h-1zM59 56h2v1h-2zM63 56h1v1h-1zM65 56h1v1h-1zM67 56h1v1h-1zM69 56h1v1h-1zM71 56h1v1h-1zM74 56h2v1h-2zM81 56h1v1h-1zM86 56h1v1h-1zM91 56h1v1h-1zM93 56h1v1h-1zM1 57h1v1h-1zM3 57h1v1h-1zM6 57h1v1h-1zM8 57h1v1h-1zM13 57h1v1h-1zM15 57h5v1h-5zM21 57h4v1h-4zM29 57h1v1h-1zM31 57h1v1h-1zM35 57h2v1h-2zM41 57h1v1h-1zM43 57h1v1h-1zM45 57h2v1h-2zM48 57h1v1h-1zM51 57h1v1h-1zM53 57h3v1h-3zM57 57h1v1h-1zM59 57h2v1h-2zM64 57h3v1h-3zM69 57h1v1h-1zM71 57h1v1h-1zM73 57h1v1h-1zM76 57h1v1h-1zM78 57h1v1h-1zM80 57h2v1h-2zM83 57h2v1h-2zM86 57h1v1h-1zM88 57h1v1h-1zM90 57h1v1h-1zM95 57h1v1h-1zM1 58h1v1h-1zM6 58h1v1h-1zM9 58h2v1h-2zM12 58h3v1h-3zM16 58h3v1h-3zM20 58h1v1h-1zM23 58h1v1h-1zM26 58h1v1h-1zM28 58h2v1h-2zM33 58h1v1h-1zM35 58h1v1h-1zM37 58h1v1h-1zM40 58h1v1h-1zM42 58h1v1h-1zM45 58h1v1h-1zM48 58h1v1h-1zM51 58h5v1h-5zM57 58h2v1h-2zM60 58h1v1h-1zM63 58h5v1h-5zM71 58h2v1h-2zM74 58h1v1h-1zM76 58h3v1h-3zM80 58h1v1h-1zM82 58h1v1h-1zM85 58h2v1h-2zM89 58h1v1h-1zM92 58h1v1h-1zM94 58h1v1h-1zM1 59h2v1h-2zM5 59h1v1h-1zM9 59h3v1h-3zM14 59h1v1h-1zM18 59h1v1h-1zM20 59h1v1h-1zM22 59h2v1h-2zM25 59h1v1h-1zM27 59h1v1h-1zM30 59h1v1h-1zM32 59h1v1h-1zM34 59h1v1h-1zM36 59h2v1h-2zM39 59h1v1h-1zM41 59h1v1h-1zM43 59h1v1h-1zM45 59h1v1h-1zM47 59h1v1h-1zM49 59h1v1h-1zM52 59h1v1h-1zM54 59h3v1h-3zM59 59h1v1h-1zM62 59h2v1h-2zM65 59h1v1h-1zM68 59h1v1h-1zM70 59h2v1h-2zM74 59h1v1h-1zM77 59h1v1h-1zM79 59h2v1h-2zM82 59h3v1h-3zM86 59h6v1h-6zM93 59h1v1h-1zM95 59h1v1h-1zM0 60h2v1h-2zM3 60h1v1h-1zM5 60h1v1h-1zM7 60h1v1h-1zM10 60h2v1h-2zM15 60h1v1h-1zM17 60h1v1h-1zM19 60h1v1h-1zM21 60h2v1h-2zM24 60h1v1h-1zM26 60h3v1h-3zM30 60h1v1h-1zM32 60h1v1h-1zM35 60h1v1h-1zM40 60h1v1h-1zM43 60h1v1h-1zM48 60h1v1h-1zM50 60h2v1h-2zM53 60h1v1h-1zM56 60h1v1h-1zM58 60h1v1h-1zM62 60h2v1h-2zM65 60h1v1h-1zM67 60h1v1h-1zM71 60h1v1h-1zM73 60h2v1h-2zM79 60h1v1h-1zM81 60h1v1h-1zM87 60h1v1h-1zM89 60h3v1h-3zM0 61h2v1h-2zM3 61h4v1h-4zM8 61h1v1h-1zM10 61h1v1h-1zM12 61h2v1h-2zM15 61h1v1h-1zM17 61h2v1h-2zM20 61h2v1h-2zM23 61h4v1h-4zM29 61h3v1h-3zM33 61h1v1h-1zM36 61h1v1h-1zM38 61h1v1h-1zM44 61h1v1h-1zM46 61h1v1h-1zM48 61h1v1h-1zM57 61h1v1h-1zM59 61h3v1h-3zM68 61h1v1h-1zM71 61h2v1h-2zM75 61h1v1h-1zM78 61h2v1h-2zM81 61h1v1h-1zM84 61h1v1h-1zM87 61h1v1h-1zM89 61h2v1h-2zM92 61h1v1h-1zM94 61h1v1h-1zM0 62h1v1h-1zM4 62h2v1h-2zM7 62h1v1h-1zM9 62h2v1h-2zM13 62h5v1h-5zM25 62h1v1h-1zM27 62h1v1h-1zM29 62h1v1h-1zM31 62h1v1h-1zM33 62h2v1h-2zM38 62h1v1h-1zM43 62h1v1h-1zM46 62h1v1h-1zM50 62h1v1h-1zM52 62h2v1h-2zM56 62h1v1h-1zM63 62h1v1h-1zM69 62h1v1h-1zM74 62h2v1h-2zM77 62h1v1h-1zM79 62h1v1h-1zM82 62h1v1h-1zM84 62h1v1h-1zM88 62h1v1h-1zM93 62h1v1h-1zM95 62h1v1h-1zM0 63h1v1h-1zM2 63h1v1h-1zM6 63h2v1h-2zM10 63h1v1h-1zM12 63h1v1h-1zM15 63h5v1h-5zM22 63h1v1h-1zM24 63h2v1h-2zM28 63h1v1h-1zM31 63h2v1h-2zM35 63h1v1h-1zM41 63h1v1h-1zM44 63h1v1h-1zM49 63h2v1h-2zM52 63h1v1h-1zM55 63h1v1h-1zM58 63h1v1h-1zM61 63h3v1h-3zM65 63h1v1h-1zM67 63h3v1h-3zM71 63h2v1h-2zM74 63h1v1h-1zM76 63h2v1h-2zM80 63h1v1h-1zM82 63h3v1h-3zM90 63h1v1h-1zM92 63h2v1h-2zM95 63h1v1h-1zM0 64h2v1h-2zM4 64h2v1h-2zM8 64h1v1h-1zM11 64h3v1h-3zM16 64h1v1h-1zM19 64h1v1h-1zM23 64h2v1h-2zM29 64h1v1h-1zM31 64h1v1h-1zM33 64h1v1h-1zM37 64h1v1h-1zM39 64h1v1h-1zM43 64h1v1h-1zM45 64h1v1h-1zM48 64h1v1h-1zM50 64h1v1h-1zM52 64h1v1h-1zM54 64h1v1h-1zM57 64h1v1h-1zM59 64h2v1h-2zM66 64h3v1h-3zM71 64h1v1h-1zM73 64h2v1h-2zM76 64h1v1h-1zM80 64h3v1h-3zM84 64h1v1h-1zM87 64h4v1h-4zM93 64h1v1h-1zM95 64h1v1h-1zM2 65h2v1h-2zM6 65h1v1h-1zM9 65h2v1h-2zM13 65h2v1h-2zM16 65h1v1h-1zM19 65h1v1h-1zM21 65h3v1h-3zM25 65h1v1h-1zM27 65h1v1h-1zM31 65h1v1h-1zM33 65h1v1h-1zM38 65h3v1h-3zM42 65h1v1h-1zM47 65h2v1h-2zM50 65h1v1h-1zM52 65h1v1h-1zM57 65h1v1h-1zM59 65h1v1h-1zM61 65h1v1h-1zM63 65h1v1h-1zM65 65h2v1h-2zM70 65h2v1h-2zM73 65h1v1h-1zM75 65h2v1h-2zM80 65h1v1h-1zM83 65h1v1h-1zM87 65h5v1h-5zM94 65h1v1h-1zM0 66h1v1h-1zM2 66h3v1h-3zM6 66h1v1h-1zM9 66h1v1h-1zM13 66h1v1h-1zM16 66h4v1h-4zM22 66h1v1h-1zM24 66h2v1h-2zM27 66h7v1h-7zM35 66h2v1h-2zM40 66h1v1h-1zM44 66h3v1h-3zM49 66h1v1h-1zM52 66h1v1h-1zM54 66h1v1h-1zM57 66h1v1h-1zM60 66h1v1h-1zM62 66h1v1h-1zM64 66h1v1h-1zM66 66h4v1h-4zM71 66h1v1h-1zM73 66h1v1h-1zM76 66h2v1h-2zM79 66h1v1h-1zM81 66h1v1h-1zM84 66h1v1h-1zM87 66h1v1h-1zM90 66h1v1h-1zM95 66h1v1h-1zM1 67h1v1h-1zM4 67h1v1h-1zM6 67h1v1h-1zM8 67h1v1h-1zM10 67h1v1h-1zM12 67h1v1h-1zM14 67h1v1h-1zM16 67h1v1h-1zM18 67h1v1h-1zM21 67h1v1h-1zM25 67h1v1h-1zM29 67h1v1h-1zM31 67h1v1h-1zM34 67h2v1h-2zM37 67h3v1h-3zM42 67h2v1h-2zM47 67h1v1h-1zM50 67h1v1h-1zM52 67h1v1h-1zM54 67h1v1h-1zM58 67h1v1h-1zM60 67h1v1h-1zM62 67h1v1h-1zM65 67h1v1h-1zM67 67h3v1h-3zM74 67h1v1h-1zM77 67h5v1h-5zM83 67h1v1h-1zM85 67h1v1h-1zM90 67h1v1h-1zM92 67h1v1h-1zM0 68h2v1h-2zM5 68h3v1h-3zM12 68h1v1h-1zM18 68h1v1h-1zM21 68h1v1h-1zM23 68h1v1h-1zM26 68h1v1h-1zM28 68h2v1h-2zM31 68h2v1h-2zM34 68h1v1h-1zM37 68h3v1h-3zM42 68h1v1h-1zM44 68h2v1h-2zM48 68h2v1h-2zM52 68h1v1h-1zM54 68h1v1h-1zM58 68h1v1h-1zM62 68h3v1h-3zM66 68h1v1h-1zM69 68h1v1h-1zM73 68h1v1h-1zM75 68h2v1h-2zM79 68h3v1h-3zM83 68h1v1h-1zM86 68h1v1h-1zM88 68h1v1h-1zM91 68h1v1h-1zM93 68h1v1h-1zM1 69h3v1h-3zM5 69h2v1h-2zM9 69h2v1h-2zM12 69h1v1h-1zM14 69h2v1h-2zM18 69h5v1h-5zM25 69h1v1h-1zM27 69h1v1h-1zM30 69h1v1h-1zM32 69h1v1h-1zM36 69h3v1h-3zM40 69h1v1h-1zM42 69h1v1h-1zM44 69h3v1h-3zM49 69h1v1h-1zM51 69h4v1h-4zM57 69h5v1h-5zM67 69h4v1h-4zM74 69h2v1h-2zM78 69h2v1h-2zM81 69h1v1h-1zM83 69h1v1h-1zM85 69h1v1h-1zM87 69h3v1h-3zM94 69h2v1h-2zM0 70h1v1h-1zM2 70h1v1h-1zM4 70h2v1h-2zM8 70h2v1h-2zM12 70h2v1h-2zM15 70h3v1h-3zM19 70h1v1h-1zM23 70h2v1h-2zM26 70h3v1h-3zM31 70h2v1h-2zM35 70h1v1h-1zM38 70h2v1h-2zM41 70h3v1h-3zM45 70h1v1h-1zM49 70h1v1h-1zM51 70h2v1h-2zM60 70h3v1h-3zM64 70h1v1h-1zM67 70h1v1h-1zM72 70h2v1h-2zM76 70h3v1h-3zM80 70h1v1h-1zM82 70h2v1h-2zM87 70h1v1h-1zM89 70h1v1h-1zM93 70h2v1h-2zM1 71h3v1h-3zM5 71h1v1h-1zM10 71h1v1h-1zM12 71h1v1h-1zM14 71h2v1h-2zM21 71h3v1h-3zM25 71h1v1h-1zM28 71h1v1h-1zM32 71h1v1h-1zM34 71h1v1h-1zM38 71h1v1h-1zM40 71h1v1h-1zM42 71h1v1h-1zM45 71h1v1h-1zM50 71h1v1h-1zM53 71h1v1h-1zM55 71h2v1h-2zM59 71h1v1h-1zM62 71h3v1h-3zM66 71h2v1h-2zM69 71h1v1h-1zM73 71h2v1h-2zM76 71h1v1h-1zM81 71h4v1h-4zM89 71h5v1h-5zM95 71h1v1h-1zM3 72h1v1h-1zM7 72h1v1h-1zM9 72h2v1h-2zM13 72h1v1h-1zM18 72h3v1h-3zM23 72h4v1h-4zM28 72h1v1h-1zM30 72h1v1h-1zM32 72h3v1h-3zM38 72h1v1h-1zM43 72h2v1h-2zM48 72h2v1h-2zM51 72h1v1h-1zM53 72h1v1h-1zM58 72h1v1h-1zM60 72h1v1h-1zM63 72h2v1h-2zM66 72h1v1h-1zM69 72h1v1h-1zM71 72h1v1h-1zM73 72h3v1h-3zM78 72h1v1h-1zM83 72h1v1h-1zM89 72h1v1h-1zM92 72h1v1h-1zM94 72h1v1h-1zM1 73h1v1h-1zM3 73h2v1h-2zM7 73h3v1h-3zM11 73h2v1h-2zM16 73h2v1h-2zM20 73h2v1h-2zM23 73h1v1h-1zM26 73h2v1h-2zM29 73h2v1h-2zM33 73h2v1h-2zM36 73h1v1h-1zM39 73h1v1h-1zM41 73h2v1h-2zM44 73h1v1h-1zM46 73h1v1h-1zM49 73h2v1h-2zM53 73h1v1h-1zM57 73h2v1h-2zM64 73h2v1h-2zM68 73h1v1h-1zM71 73h1v1h-1zM73 73h1v1h-1zM76 73h2v1h-2zM79 73h2v1h-2zM86 73h3v1h-3zM90 73h1v1h-1zM93 73h1v1h-1zM95 73h1v1h-1zM1 74h1v1h-1zM4 74h1v1h-1zM6 74h3v1h-3zM10 74h3v1h-3zM15 74h1v1h-1zM17 74h1v1h-1zM19 74h1v1h-1zM26 74h2v1h-2zM31 74h2v1h-2zM35 74h4v1h-4zM42 74h1v1h-1zM44 74h1v1h-1zM49 74h3v1h-3zM54 74h2v1h-2zM57 74h3v1h-3zM61 74h1v1h-1zM69 74h1v1h-1zM71 74h3v1h-3zM75 74h1v1h-1zM77 74h1v1h-1zM79 74h1v1h-1zM83 74h1v1h-1zM88 74h1v1h-1zM92 74h1v1h-1zM94 74h2v1h-2zM0 75h3v1h-3zM6 75h1v1h-1zM10 75h1v1h-1zM12 75h3v1h-3zM18 75h2v1h-2zM21 75h2v1h-2zM24 75h1v1h-1zM30 75h2v1h-2zM34 75h3v1h-3zM38 75h2v1h-2zM41 75h2v1h-2zM44 75h5v1h-5zM50 75h3v1h-3zM55 75h3v1h-3zM59 75h2v1h-2zM63 75h1v1h-1zM66 75h2v1h-2zM72 75h3v1h-3zM78 75h1v1h-1zM80 75h3v1h-3zM86 75h1v1h-1zM88 75h1v1h-1zM91 75h1v1h-1zM93 75h1v1h-1zM95 75h1v1h-1zM0 76h2v1h-2zM7 76h1v1h-1zM9 76h5v1h-5zM16 76h2v1h-2zM20 76h2v1h-2zM24 76h1v1h-1zM26 76h1v1h-1zM29 76h1v1h-1zM31 76h1v1h-1zM43 76h1v1h-1zM45 76h2v1h-2zM48 76h1v1h-1zM50 76h1v1h-1zM57 76h1v1h-1zM59 76h1v1h-1zM61 76h3v1h-3zM66 76h2v1h-2zM69 76h2v1h-2zM72 76h1v1h-1zM75 76h3v1h-3zM80 76h3v1h-3zM84 76h1v1h-1zM86 76h4v1h-4zM91 76h1v1h-1zM93 76h1v1h-1zM3 77h2v1h-2zM8 77h1v1h-1zM10 77h1v1h-1zM12 77h1v1h-1zM14 77h2v1h-2zM17 77h2v1h-2zM21 77h2v1h-2zM24 77h1v1h-1zM29 77h1v1h-1zM31 77h1v1h-1zM33 77h1v1h-1zM35 77h3v1h-3zM39 77h2v1h-2zM44 77h1v1h-1zM46 77h3v1h-3zM51 77h1v1h-1zM56 77h1v1h-1zM58 77h3v1h-3zM63 77h1v1h-1zM65 77h1v1h-1zM68 77h1v1h-1zM73 77h1v1h-1zM75 77h2v1h-2zM79 77h1v1h-1zM83 77h2v1h-2zM86 77h1v1h-1zM88 77h2v1h-2zM91 77h1v1h-1zM93 77h1v1h-1zM95 77h1v1h-1zM1 78h1v1h-1zM3 78h4v1h-4zM9 78h1v1h-1zM11 78h1v1h-1zM14 78h1v1h-1zM16 78h2v1h-2zM20 78h4v1h-4zM28 78h1v1h-1zM31 78h1v1h-1zM34 78h3v1h-3zM40 78h2v1h-2zM43 78h2v1h-2zM46 78h1v1h-1zM51 78h1v1h-1zM55 78h3v1h-3zM59 78h3v1h-3zM64 78h1v1h-1zM67 78h1v1h-1zM70 78h1v1h-1zM75 78h1v1h-1zM77 78h1v1h-1zM80 78h1v1h-1zM82 78h1v1h-1zM85 78h1v1h-1zM87 78h2v1h-2zM91 78h1v1h-1zM93 78h3v1h-3zM3 79h2v1h-2zM6 79h1v1h-1zM9 79h1v1h-1zM12 79h2v1h-2zM17 79h4v1h-4zM26 79h1v1h-1zM28 79h1v1h-1zM31 79h4v1h-4zM36 79h1v1h-1zM40 79h2v1h-2zM45 79h2v1h-2zM50 79h2v1h-2zM54 79h1v1h-1zM60 79h1v1h-1zM63 79h2v1h-2zM67 79h2v1h-2zM73 79h1v1h-1zM75 79h3v1h-3zM79 79h1v1h-1zM84 79h1v1h-1zM88 79h2v1h-2zM91 79h1v1h-1zM95 79h1v1h-1zM0 80h1v1h-1zM3 80h2v1h-2zM7 80h2v1h-2zM11 80h2v1h-2zM14 80h1v1h-1zM16 80h2v1h-2zM21 80h1v1h-1zM24 80h1v1h-1zM27 80h1v1h-1zM29 80h2v1h-2zM33 80h1v1h-1zM35 80h1v1h-1zM38 80h3v1h-3zM44 80h1v1h-1zM46 80h1v1h-1zM51 80h1v1h-1zM56 80h1v1h-1zM58 80h2v1h-2zM62 80h1v1h-1zM65 80h2v1h-2zM69 80h3v1h-3zM73 80h1v1h-1zM77 80h1v1h-1zM79 80h3v1h-3zM85 80h2v1h-2zM88 80h1v1h-1zM91 80h1v1h-1zM94 80h1v1h-1zM4 81h2v1h-2zM9 81h2v1h-2zM12 81h1v1h-1zM15 81h1v1h-1zM17 81h1v1h-1zM20 81h1v1h-1zM32 81h3v1h-3zM37 81h1v1h-1zM39 81h4v1h-4zM44 81h1v1h-1zM49 81h1v1h-1zM52 81h1v1h-1zM54 81h3v1h-3zM59 81h2v1h-2zM62 81h1v1h-1zM64 81h1v1h-1zM66 81h2v1h-2zM70 81h1v1h-1zM72 81h1v1h-1zM74 81h1v1h-1zM76 81h2v1h-2zM79 81h1v1h-1zM81 81h1v1h-1zM83 81h1v1h-1zM85 81h1v1h-1zM87 81h1v1h-1zM89 81h1v1h-1zM91 81h1v1h-1zM93 81h1v1h-1zM2 82h6v1h-6zM9 82h1v1h-1zM11 82h4v1h-4zM17 82h1v1h-1zM20 82h1v1h-1zM23 82h3v1h-3zM27 82h1v1h-1zM29 82h1v1h-1zM32 82h2v1h-2zM35 82h3v1h-3zM39 82h1v1h-1zM45 82h2v1h-2zM51 82h1v1h-1zM53 82h1v1h-1zM55 82h2v1h-2zM60 82h1v1h-1zM62 82h1v1h-1zM64 82h1v1h-1zM67 82h2v1h-2zM72 82h3v1h-3zM76 82h1v1h-1zM78 82h2v1h-2zM81 82h2v1h-2zM85 82h1v1h-1zM87 82h1v1h-1zM89 82h1v1h-1zM92 82h3v1h-3zM1 83h1v1h-1zM4 83h2v1h-2zM7 83h1v1h-1zM9 83h3v1h-3zM17 83h1v1h-1zM19 83h1v1h-1zM21 83h1v1h-1zM23 83h2v1h-2zM26 83h1v1h-1zM28 83h1v1h-1zM30 83h1v1h-1zM35 83h1v1h-1zM37 83h1v1h-1zM42 83h1v1h-1zM46 83h1v1h-1zM51 83h1v1h-1zM57 83h2v1h-2zM60 83h1v1h-1zM62 83h1v1h-1zM64 83h2v1h-2zM68 83h1v1h-1zM72 83h1v1h-1zM74 83h1v1h-1zM77 83h1v1h-1zM82 83h3v1h-3zM88 83h1v1h-1zM91 83h1v1h-1zM93 83h2v1h-2zM1 84h2v1h-2zM4 84h1v1h-1zM6 84h1v1h-1zM9 84h1v1h-1zM11 84h2v1h-2zM14 84h1v1h-1zM17 84h4v1h-4zM22 84h3v1h-3zM26 84h2v1h-2zM29 84h2v1h-2zM32 84h1v1h-1zM35 84h1v1h-1zM37 84h1v1h-1zM42 84h2v1h-2zM46 84h1v1h-1zM48 84h1v1h-1zM54 84h1v1h-1zM56 84h1v1h-1zM60 84h1v1h-1zM62 84h2v1h-2zM66 84h1v1h-1zM68 84h1v1h-1zM70 84h2v1h-2zM73 84h1v1h-1zM75 84h4v1h-4zM80 84h1v1h-1zM82 84h1v1h-1zM85 84h1v1h-1zM90 84h4v1h-4zM95 84h1v1h-1zM3 85h1v1h-1zM5 85h1v1h-1zM7 85h1v1h-1zM9 85h1v1h-1zM12 85h2v1h-2zM15 85h1v1h-1zM19 85h1v1h-1zM21 85h1v1h-1zM23 85h1v1h-1zM25 85h1v1h-1zM27 85h3v1h-3zM31 85h1v1h-1zM34 85h1v1h-1zM36 85h1v1h-1zM39 85h1v1h-1zM41 85h1v1h-1zM43 85h1v1h-1zM46 85h1v1h-1zM49 85h1v1h-1zM53 85h1v1h-1zM55 85h1v1h-1zM58 85h1v1h-1zM66 85h1v1h-1zM68 85h3v1h-3zM75 85h1v1h-1zM78 85h1v1h-1zM81 85h1v1h-1zM83 85h2v1h-2zM86 85h1v1h-1zM90 85h1v1h-1zM92 85h1v1h-1zM1 86h4v1h-4zM6 86h1v1h-1zM9 86h1v1h-1zM11 86h1v1h-1zM13 86h1v1h-1zM18 86h3v1h-3zM23 86h2v1h-2zM26 86h2v1h-2zM29 86h1v1h-1zM31 86h1v1h-1zM34 86h1v1h-1zM38 86h1v1h-1zM40 86h1v1h-1zM42 86h1v1h-1zM44 86h1v1h-1zM48 86h1v1h-1zM51 86h1v1h-1zM53 86h1v1h-1zM58 86h1v1h-1zM60 86h1v1h-1zM62 86h1v1h-1zM67 86h4v1h-4zM73 86h2v1h-2zM79 86h3v1h-3zM83 86h2v1h-2zM87 86h6v1h-6zM95 86h1v1h-1zM3 87h1v1h-1zM5 87h2v1h-2zM8 87h1v1h-1zM11 87h2v1h-2zM14 87h1v1h-1zM17 87h1v1h-1zM19 87h1v1h-1zM24 87h1v1h-1zM27 87h1v1h-1zM29 87h1v1h-1zM32 87h1v1h-1zM34 87h2v1h-2zM39 87h1v1h-1zM43 87h1v1h-1zM47 87h1v1h-1zM50 87h4v1h-4zM55 87h1v1h-1zM58 87h1v1h-1zM61 87h1v1h-1zM64 87h1v1h-1zM67 87h2v1h-2zM70 87h2v1h-2zM77 87h6v1h-6zM84 87h1v1h-1zM86 87h2v1h-2zM89 87h2v1h-2zM94 87h2v1h-2zM1 88h1v1h-1zM5 88h2v1h-2zM9 88h1v1h-1zM11 88h1v1h-1zM16 88h3v1h-3zM20 88h3v1h-3zM25 88h1v1h-1zM27 88h2v1h-2zM31 88h1v1h-1zM35 88h3v1h-3zM39 88h1v1h-1zM41 88h3v1h-3zM46 88h1v1h-1zM48 88h1v1h-1zM50 88h1v1h-1zM54 88h2v1h-2zM58 88h1v1h-1zM61 88h1v1h-1zM66 88h1v1h-1zM68 88h2v1h-2zM71 88h2v1h-2zM74 88h2v1h-2zM78 88h1v1h-1zM80 88h1v1h-1zM84 88h2v1h-2zM89 88h2v1h-2zM92 88h1v1h-1zM2 89h1v1h-1zM6 89h2v1h-2zM11 89h1v1h-1zM16 89h1v1h-1zM18 89h1v1h-1zM21 89h1v1h-1zM25 89h1v1h-1zM28 89h1v1h-1zM31 89h4v1h-4zM40 89h1v1h-1zM42 89h1v1h-1zM44 89h2v1h-2zM47 89h2v1h-2zM51 89h2v1h-2zM54 89h2v1h-2zM57 89h1v1h-1zM59 89h3v1h-3zM65 89h1v1h-1zM67 89h1v1h-1zM71 89h1v1h-1zM74 89h1v1h-1zM76 89h1v1h-1zM79 89h1v1h-1zM84 89h1v1h-1zM86 89h1v1h-1zM88 89h4v1h-4zM93 89h1v1h-1zM95 89h1v1h-1zM5 90h1v1h-1zM7 90h1v1h-1zM11 90h2v1h-2zM16 90h1v1h-1zM19 90h1v1h-1zM23 90h1v1h-1zM25 90h5v1h-5zM31 90h1v1h-1zM37 90h2v1h-2zM40 90h1v1h-1zM42 90h1v1h-1zM44 90h1v1h-1zM49 90h1v1h-1zM54 90h1v1h-1zM56 90h1v1h-1zM62 90h1v1h-1zM64 90h2v1h-2zM67 90h2v1h-2zM70 90h1v1h-1zM72 90h2v1h-2zM76 90h1v1h-1zM79 90h1v1h-1zM81 90h2v1h-2zM84 90h1v1h-1zM86 90h1v1h-1zM90 90h1v1h-1zM93 90h3v1h-3zM0 91h1v1h-1zM4 91h1v1h-1zM6 91h1v1h-1zM8 91h2v1h-2zM11 91h2v1h-2zM15 91h2v1h-2zM18 91h1v1h-1zM20 91h3v1h-3zM24 91h1v1h-1zM29 91h1v1h-1zM31 91h3v1h-3zM36 91h3v1h-3zM41 91h1v1h-1zM44 91h3v1h-3zM49 91h1v1h-1zM52 91h1v1h-1zM55 91h1v1h-1zM57 91h1v1h-1zM59 91h1v1h-1zM67 91h2v1h-2zM70 91h1v1h-1zM78 91h2v1h-2zM81 91h2v1h-2zM84 91h2v1h-2zM90 91h1v1h-1zM92 91h2v1h-2zM0 92h1v1h-1zM2 92h2v1h-2zM6 92h1v1h-1zM9 92h1v1h-1zM12 92h1v1h-1zM14 92h3v1h-3zM19 92h2v1h-2zM24 92h1v1h-1zM26 92h3v1h-3zM31 92h1v1h-1zM33 92h2v1h-2zM37 92h1v1h-1zM39 92h1v1h-1zM46 92h1v1h-1zM48 92h1v1h-1zM53 92h1v1h-1zM56 92h1v1h-1zM60 92h1v1h-1zM63 92h1v1h-1zM66 92h1v1h-1zM68 92h1v1h-1zM70 92h2v1h-2zM74 92h1v1h-1zM76 92h1v1h-1zM78 92h2v1h-2zM82 92h1v1h-1zM85 92h4v1h-4zM90 92h1v1h-1zM92 92h1v1h-1zM95 92h1v1h-1zM2 93h1v1h-1zM4 93h1v1h-1zM7 93h1v1h-1zM9 93h1v1h-1zM11 93h1v1h-1zM13 93h1v1h-1zM15 93h3v1h-3zM20 93h2v1h-2zM23 93h2v1h-2zM26 93h1v1h-1zM29 93h3v1h-3zM33 93h1v1h-1zM36 93h5v1h-5zM42 93h1v1h-1zM46 93h1v1h-1zM48 93h1v1h-1zM52 93h2v1h-2zM57 93h1v1h-1zM59 93h1v1h-1zM62 93h2v1h-2zM67 93h2v1h-2zM71 93h2v1h-2zM74 93h1v1h-1zM76 93h1v1h-1zM79 93h1v1h-1zM81 93h1v1h-1zM91 93h2v1h-2zM94 93h2v1h-2zM1 94h1v1h-1zM3 94h2v1h-2zM8 94h2v1h-2zM12 94h1v1h-1zM15 94h1v1h-1zM17 94h1v1h-1zM20 94h1v1h-1zM22 94h1v1h-1zM24 94h1v1h-1zM28 94h2v1h-2zM32 94h1v1h-1zM35 94h1v1h-1zM42 94h2v1h-2zM47 94h1v1h-1zM49 94h2v1h-2zM52 94h1v1h-1zM57 94h1v1h-1zM59 94h1v1h-1zM63 94h1v1h-1zM65 94h1v1h-1zM67 94h1v1h-1zM70 94h2v1h-2zM77 94h1v1h-1zM79 94h1v1h-1zM82 94h1v1h-1zM84 94h2v1h-2zM88 94h1v1h-1zM93 94h1v1h-1zM0 95h1v1h-1zM2 95h2v1h-2zM6 95h1v1h-1zM8 95h3v1h-3zM12 95h1v1h-1zM14 95h2v1h-2zM17 95h1v1h-1zM20 95h2v1h-2zM28 95h1v1h-1zM31 95h1v1h-1zM35 95h1v1h-1zM37 95h1v1h-1zM40 95h1v1h-1zM42 95h5v1h-5zM49 95h3v1h-3zM53 95h1v1h-1zM55 95h2v1h-2zM59 95h2v1h-2zM62 95h1v1h-1zM65 95h1v1h-1zM67 95h3v1h-3zM75 95h1v1h-1zM77 95h1v1h-1zM80 95h1v1h-1zM84 95h1v1h-1zM86 95h3v1h-3zM90 95h1v1h-1zM92 95h1v1h-1zM95 95h1v1h-1z"/></pattern><filter id="bl" x="0" y="0" width="1" height="1"><feGaussianBlur stdDeviation="0.45"/></filter></defs>
<rect width="520" height="709" fill="#fff"/>
<polygon points="72.0,273.0 72.0,262.5 72.0,262.5 74.5,262.5 74.5,261.4 77.0,261.4 77.0,257.6 79.5,257.6 79.5,255.0 82.0,255.0 82.0,255.0 84.5,255.0 84.5,260.0 87.0,260.0 87.0,259.3 89.5,259.3 89.5,258.0 92.0,258.0 92.0,255.5 94.5,255.5 94.5,247.5 97.0,247.5 97.0,249.4 99.5,249.4 99.5,250.8 102.0,250.8 102.0,250.1 104.5,250.1 104.5,247.4 106.9,247.4 106.9,245.0 109.4,245.0 109.4,240.5 111.9,240.5 111.9,242.2 114.4,242.2 114.4,239.1 116.9,239.1 116.9,236.0 119.4,236.0 119.4,239.6 121.9,239.6 121.9,241.4 124.4,241.4 124.4,242.5 126.9,242.5 126.9,230.0 129.4,230.0 129.4,220.0 131.9,220.0 131.9,230.0 134.4,230.0 134.4,226.1 136.9,226.1 136.9,221.6 139.4,221.6 139.4,219.0 141.9,219.0 141.9,219.0 144.4,219.0 144.4,214.6 146.9,214.6 146.9,214.6 149.4,214.6 149.4,218.5 151.9,218.5 151.9,214.6 154.4,214.6 154.4,214.6 156.9,214.6 156.9,204.0 159.4,204.0 159.4,205.3 161.9,205.3 161.9,210.5 164.4,210.5 164.4,210.8 166.9,210.8 166.9,211.1 169.4,211.1 169.4,211.5 171.8,211.5 171.8,204.0 174.3,204.0 174.3,204.0 176.8,204.0 176.8,204.0 179.3,204.0 179.3,216.0 181.8,216.0 181.8,217.4 184.3,217.4 184.3,219.0 186.8,219.0 186.8,213.0 189.3,213.0 189.3,213.0 191.8,213.0 191.8,213.4 194.3,213.4 194.3,213.9 196.8,213.9 196.8,214.4 199.3,214.4 199.3,220.4 201.8,220.4 201.8,224.0 204.3,224.0 204.3,214.6 206.8,214.6 206.8,214.6 209.3,214.6 209.3,219.0 211.8,219.0 211.8,219.0 214.3,219.0 214.3,219.0 216.8,219.0 216.8,227.5 219.3,227.5 219.3,205.0 221.8,205.0 221.8,200.0 224.3,200.0 224.3,207.5 226.8,207.5 226.8,208.5 229.3,208.5 229.3,209.8 231.8,209.8 231.8,212.8 234.3,212.8 234.3,213.7 236.8,213.7 236.8,213.7 239.2,213.7 239.2,207.5 241.7,207.5 241.7,210.6 244.2,210.6 244.2,214.0 246.7,214.0 246.7,215.0 249.2,215.0 249.2,200.0 251.7,200.0 251.7,212.5 254.2,212.5 254.2,212.5 256.7,212.5 256.7,206.3 259.2,206.3 259.2,200.0 261.7,200.0 261.7,212.5 264.2,212.5 264.2,205.0 266.7,205.0 266.7,211.1 269.2,211.1 269.2,218.0 271.7,218.0 271.7,220.4 274.2,220.4 274.2,222.9 276.7,222.9 276.7,225.0 279.2,225.0 279.2,220.8 281.7,220.8 281.7,213.7 284.2,213.7 284.2,226.0 286.7,226.0 286.7,227.9 289.2,227.9 289.2,230.0 291.7,230.0 291.7,226.0 294.2,226.0 294.2,235.0 296.7,235.0 296.7,234.0 299.2,234.0 299.2,235.4 301.7,235.4 301.7,238.3 304.2,238.3 304.2,242.5 306.6,242.5 306.6,233.7 309.1,233.7 309.1,233.7 311.6,233.7 311.6,233.7 314.1,233.7 314.1,242.5 316.6,242.5 316.6,233.7 319.1,233.7 319.1,235.9 321.6,235.9 321.6,239.2 324.1,239.2 324.1,242.8 326.6,242.8 326.6,246.6 329.1,246.6 329.1,250.1 331.6,250.1 331.6,251.0 334.1,251.0 334.1,240.0 336.6,240.0 336.6,250.2 339.1,250.2 339.1,252.0 341.6,252.0 341.6,254.8 344.1,254.8 344.1,257.3 346.6,257.3 346.6,255.6 349.1,255.6 349.1,262.5 351.6,262.5 351.6,263.2 354.1,263.2 354.1,264.2 356.6,264.2 356.6,264.5 359.1,264.5 359.1,260.0 361.6,260.0 361.6,262.3 364.1,262.3 364.1,265.0 366.6,265.0 366.6,265.3 369.1,265.3 369.1,265.5 371.5,265.5 371.5,265.8 374.0,265.8 374.0,265.5 376.5,265.5 376.5,260.0 379.0,260.0 379.0,263.7 381.5,263.7 381.5,262.1 384.0,262.1 384.0,260.4 386.5,260.4 386.5,263.7 389.0,263.7 389.0,265.8 391.5,265.8 391.5,267.0 394.0,267.0 394.0,272.0 396.5,272.0 396.5,272.0 399.0,272.0 399.0,272.0 401.5,272.0 401.5,265.0 404.0,265.0 404.0,272.0 404.0,273.0" fill="url(#st)" filter="url(#bl)"/>
<polyline points="72.0,262.5 72.0,262.5 74.5,262.5 74.5,261.4 77.0,261.4 77.0,257.6 79.5,257.6 79.5,255.0 82.0,255.0 82.0,255.0 84.5,255.0 84.5,260.0 87.0,260.0 87.0,259.3 89.5,259.3 89.5,258.0 92.0,258.0 92.0,255.5 94.5,255.5 94.5,247.5 97.0,247.5 97.0,249.4 99.5,249.4 99.5,250.8 102.0,250.8 102.0,250.1 104.5,250.1 104.5,247.4 106.9,247.4 106.9,245.0 109.4,245.0 109.4,240.5 111.9,240.5 111.9,242.2 114.4,242.2 114.4,239.1 116.9,239.1 116.9,236.0 119.4,236.0 119.4,239.6 121.9,239.6 121.9,241.4 124.4,241.4 124.4,242.5 126.9,242.5 126.9,230.0 129.4,230.0 129.4,220.0 131.9,220.0 131.9,230.0 134.4,230.0 134.4,226.1 136.9,226.1 136.9,221.6 139.4,221.6 139.4,219.0 141.9,219.0 141.9,219.0 144.4,219.0 144.4,214.6 146.9,214.6 146.9,214.6 149.4,214.6 149.4,218.5 151.9,218.5 151.9,214.6 154.4,214.6 154.4,214.6 156.9,214.6 156.9,204.0 159.4,204.0 159.4,205.3 161.9,205.3 161.9,210.5 164.4,210.5 164.4,210.8 166.9,210.8 166.9,211.1 169.4,211.1 169.4,211.5 171.8,211.5 171.8,204.0 174.3,204.0 174.3,204.0 176.8,204.0 176.8,204.0 179.3,204.0 179.3,216.0 181.8,216.0 181.8,217.4 184.3,217.4 184.3,219.0 186.8,219.0 186.8,213.0 189.3,213.0 189.3,213.0 191.8,213.0 191.8,213.4 194.3,213.4 194.3,213.9 196.8,213.9 196.8,214.4 199.3,214.4 199.3,220.4 201.8,220.4 201.8,224.0 204.3,224.0 204.3,214.6 206.8,214.6 206.8,214.6 209.3,214.6 209.3,219.0 211.8,219.0 211.8,219.0 214.3,219.0 214.3,219.0 216.8,219.0 216.8,227.5 219.3,227.5 219.3,205.0 221.8,205.0 221.8,200.0 224.3,200.0 224.3,207.5 226.8,207.5 226.8,208.5 229.3,208.5 229.3,209.8 231.8,209.8 231.8,212.8 234.3,212.8 234.3,213.7 236.8,213.7 236.8,213.7 239.2,213.7 239.2,207.5 241.7,207.5 241.7,210.6 244.2,210.6 244.2,214.0 246.7,214.0 246.7,215.0 249.2,215.0 249.2,200.0 251.7,200.0 251.7,212.5 254.2,212.5 254.2,212.5 256.7,212.5 256.7,206.3 259.2,206.3 259.2,200.0 261.7,200.0 261.7,212.5 264.2,212.5 264.2,205.0 266.7,205.0 266.7,211.1 269.2,211.1 269.2,218.0 271.7,218.0 271.7,220.4 274.2,220.4 274.2,222.9 276.7,222.9 276.7,225.0 279.2,225.0 279.2,220.8 281.7,220.8 281.7,213.7 284.2,213.7 284.2,226.0 286.7,226.0 286.7,227.9 289.2,227.9 289.2,230.0 291.7,230.0 291.7,226.0 294.2,226.0 294.2,235.0 296.7,235.0 296.7,234.0 299.2,234.0 299.2,235.4 301.7,235.4 301.7,238.3 304.2,238.3 304.2,242.5 306.6,242.5 306.6,233.7 309.1,233.7 309.1,233.7 311.6,233.7 311.6,233.7 314.1,233.7 314.1,242.5 316.6,242.5 316.6,233.7 319.1,233.7 319.1,235.9 321.6,235.9 321.6,239.2 324.1,239.2 324.1,242.8 326.6,242.8 326.6,246.6 329.1,246.6 329.1,250.1 331.6,250.1 331.6,251.0 334.1,251.0 334.1,240.0 336.6,240.0 336.6,250.2 339.1,250.2 339.1,252.0 341.6,252.0 341.6,254.8 344.1,254.8 344.1,257.3 346.6,257.3 346.6,255.6 349.1,255.6 349.1,262.5 351.6,262.5 351.6,263.2 354.1,263.2 354.1,264.2 356.6,264.2 356.6,264.5 359.1,264.5 359.1,260.0 361.6,260.0 361.6,262.3 364.1,262.3 364.1,265.0 366.6,265.0 366.6,265.3 369.1,265.3 369.1,265.5 371.5,265.5 371.5,265.8 374.0,265.8 374.0,265.5 376.5,265.5 376.5,260.0 379.0,260.0 379.0,263.7 381.5,263.7 381.5,262.1 384.0,262.1 384.0,260.4 386.5,260.4 386.5,263.7 389.0,263.7 389.0,265.8 391.5,265.8 391.5,267.0 394.0,267.0 394.0,272.0 396.5,272.0 396.5,272.0 399.0,272.0 399.0,272.0 401.5,272.0 401.5,265.0 404.0,265.0 404.0,272.0" fill="none" stroke="#0a0a0a" stroke-width="2.2" stroke-linejoin="miter"/>
<polyline points="181.9,227.0 181.9,227.0 184.4,227.0 184.4,227.0 186.9,227.0 186.9,221.0 189.4,221.0 189.4,227.6 191.9,227.6 191.9,232.6 194.5,232.6 194.5,236.1 197.0,236.1 197.0,239.4 199.5,239.4 199.5,238.0 202.0,238.0 202.0,238.4 204.5,238.4 204.5,236.3 207.0,236.3 207.0,242.5 209.5,242.5 209.5,242.5 212.0,242.5 212.0,241.0 214.5,241.0 214.5,248.2 217.0,248.2 217.0,251.8 219.6,251.8 219.6,249.0 222.1,249.0 222.1,242.0 224.6,242.0 224.6,239.7 227.1,239.7 227.1,240.0 229.6,240.0 229.6,248.9 232.1,248.9 232.1,254.6 234.6,254.6 234.6,252.4 237.1,252.4 237.1,251.3 239.6,251.3 239.6,252.5 242.1,252.5 242.1,249.1 244.7,249.1 244.7,248.2 247.2,248.2 247.2,245.0 249.7,245.0 249.7,254.9 252.2,254.9 252.2,258.0 254.7,258.0 254.7,258.8 257.2,258.8 257.2,260.3 259.7,260.3 259.7,260.4 262.2,260.4 262.2,262.5 264.7,262.5 264.7,262.3 267.2,262.3 267.2,264.5 269.8,264.5 269.8,260.7 272.3,260.7 272.3,262.0 274.8,262.0 274.8,262.8 277.3,262.8 277.3,262.0 279.8,262.0 279.8,265.5 282.3,265.5 282.3,263.8 284.8,263.8 284.8,265.3 287.3,265.3 287.3,265.8 289.8,265.8 289.8,264.6 292.3,264.6 292.3,268.0 294.9,268.0 294.9,267.7 297.4,267.7 297.4,268.2 299.9,268.2 299.9,269.8 302.4,269.8 302.4,269.9 304.9,269.9 304.9,270.4 307.4,270.4 307.4,268.7 309.9,268.7 309.9,270.1 312.4,270.1 312.4,269.1 314.9,269.1 314.9,270.7 317.4,270.7 317.4,268.5 320.0,268.5 320.0,272.5 322.5,272.5 322.5,271.7 325.0,271.7 325.0,270.8 327.5,270.8 327.5,270.3 330.0,270.3 330.0,271.0" fill="none" stroke="#0a0a0a" stroke-width="2.5"/>
<polyline points="195.0,270.0 195.0,270.0 197.5,270.0 197.5,268.1 200.1,268.1 200.1,270.2 202.6,270.2 202.6,271.2 205.2,271.2 205.2,268.3 207.7,268.3 207.7,268.2 210.3,268.2 210.3,270.8 212.8,270.8 212.8,270.0 215.4,270.0 215.4,265.0 217.9,265.0 217.9,264.7 220.5,264.7 220.5,265.9 223.0,265.9 223.0,264.0 225.6,264.0 225.6,266.3 228.1,266.3 228.1,265.6 230.7,265.6 230.7,263.7 233.2,263.7 233.2,257.5 235.8,257.5 235.8,256.0 238.3,256.0 238.3,256.1 240.9,256.1 240.9,255.1 243.4,255.1 243.4,247.5 246.0,247.5 246.0,247.9 248.5,247.9 248.5,247.5 251.1,247.5 251.1,240.0 253.6,240.0 253.6,238.6 256.2,238.6 256.2,237.5 258.7,237.5 258.7,220.0" fill="none" stroke="#0a0a0a" stroke-width="2.5"/>
<polyline points="318.0,232.0 318.0,233.3 320.5,233.3 320.5,235.8 323.1,235.8 323.1,240.4 325.6,240.4 325.6,242.1 328.2,242.1 328.2,245.3 330.7,245.3 330.7,248.4 333.3,248.4 333.3,249.5 335.8,249.5 335.8,252.1 338.4,252.1 338.4,255.6 340.9,255.6 340.9,256.1 343.5,256.1 343.5,257.0 346.0,257.0 346.0,259.0" fill="none" stroke="#0a0a0a" stroke-width="2.2"/>
<polyline points="72.0,206.0 72.0,205.9 74.0,205.9 74.0,205.7 76.0,205.7 76.0,205.6 78.0,205.6 78.0,227.3 80.0,227.3 80.0,200.0 82.0,200.0 82.0,208.7 84.0,208.7 84.0,200.1 86.0,200.1 86.0,188.6 88.0,188.6 88.0,188.6 90.0,188.6 90.0,207.0 92.0,207.0 92.0,214.1 94.0,214.1 94.0,194.8 96.0,194.8 96.0,194.8 98.0,194.8 98.0,194.8 100.0,194.8 100.0,180.1 102.0,180.1 102.0,170.0 104.0,170.0 104.0,161.9 106.0,161.9 106.0,160.5 108.0,160.5 108.0,154.5 110.0,154.5 110.0,160.7 112.0,160.7 112.0,168.4 114.0,168.4 114.0,154.5 116.0,154.5 116.0,168.4 118.0,168.4 118.0,155.2 120.0,155.2 120.0,154.9 122.0,154.9 122.0,154.5 124.0,154.5 124.0,147.4 126.0,147.4 126.0,142.8 127.9,142.8 127.9,154.5 129.9,154.5 129.9,143.6 131.9,143.6 131.9,154.5 133.9,154.5 133.9,145.2 135.9,145.2 135.9,134.3 137.9,134.3 137.9,148.3 139.9,148.3 139.9,166.0 141.9,166.0 141.9,193.0 143.9,193.0 143.9,187.4 145.9,187.4 145.9,180.5 147.9,180.5 147.9,187.5 149.9,187.5 149.9,191.5 151.9,191.5 151.9,195.5 153.9,195.5 153.9,200.7 155.9,200.7 155.9,194.5 157.9,194.5 157.9,197.6 159.9,197.6 159.9,206.0 161.9,206.0 161.9,208.0 163.9,208.0 163.9,210.6 165.9,210.6 165.9,211.9 167.9,211.9 167.9,212.6 169.9,212.6 169.9,213.0 171.9,213.0 171.9,206.0 173.9,206.0 173.9,192.0 175.9,192.0 175.9,180.5 177.9,180.5 177.9,192.0 179.9,192.0 179.9,208.0 181.9,208.0 181.9,227.0" fill="none" stroke="#0a0a0a" stroke-width="1.5"/>
<polyline points="258.7,220.0 258.7,218.7 260.7,218.7 260.7,216.0 262.7,216.0 262.7,211.5 264.7,211.5 264.7,205.8 266.7,205.8 266.7,197.5 268.7,197.5 268.7,195.3 270.7,195.3 270.7,187.5 272.7,187.5 272.7,187.5 274.7,187.5 274.7,187.5 276.7,187.5 276.7,177.5 278.7,177.5 278.7,175.0 280.7,175.0 280.7,185.0 282.8,185.0 282.8,160.0 284.8,160.0 284.8,160.0 286.8,160.0 286.8,149.2 288.8,149.2 288.8,142.5 290.8,142.5 290.8,120.0 292.8,120.0 292.8,117.4 294.8,117.4 294.8,115.0 296.8,115.0 296.8,122.5 298.8,122.5 298.8,115.6 300.8,115.6 300.8,113.2 302.8,113.2 302.8,96.2 304.8,96.2 304.8,81.0 306.8,81.0 306.8,93.7 308.8,93.7 308.8,92.9 310.8,92.9 310.8,93.5 312.8,93.5 312.8,87.5 314.8,87.5 314.8,75.0 316.8,75.0 316.8,56.0 318.8,56.0 318.8,65.0 320.8,65.0 320.8,85.0 322.8,85.0 322.8,98.3 324.8,98.3 324.8,110.0 326.8,110.0 326.9,120.0 328.9,120.0 328.9,123.8 330.9,123.8 330.9,127.5 332.9,127.5 332.9,138.7 334.9,138.7 334.9,147.4 336.9,147.4 336.9,160.0 338.9,160.0 338.9,166.4 340.9,166.4 340.9,172.5 342.9,172.5 342.9,186.0 344.9,186.0 344.9,196.9 346.9,196.9 346.9,207.0 348.9,207.0 348.9,217.5 350.9,217.5 350.9,221.3 352.9,221.3 352.9,224.5 354.9,224.5 354.9,227.4 356.9,227.4 356.9,235.0 358.9,235.0 358.9,236.6 360.9,236.6 360.9,239.2 362.9,239.2 362.9,243.1 364.9,243.1 364.9,247.4 366.9,247.4 366.9,251.1 368.9,251.1 368.9,254.1 370.9,254.1 370.9,256.8 373.0,256.8 373.0,261.1 375.0,261.1 375.0,264.0 377.0,264.0 377.0,264.7 379.0,264.7 379.0,265.6 381.0,265.6 381.0,266.6 383.0,266.6 383.0,267.5 385.0,267.5 385.0,268.3 387.0,268.3 387.0,268.9 389.0,268.9 389.0,269.5 391.0,269.5 391.0,270.1 393.0,270.1 393.0,270.7 395.0,270.7 395.0,271.0" fill="none" stroke="#0a0a0a" stroke-width="1.5"/>
<polyline points="435,272 435,265.5 437,265.5 437,272" fill="none" stroke="#0a0a0a" stroke-width="1.4"/>
<polyline points="135,272 135,266 138,266 138,272" fill="none" stroke="#0a0a0a" stroke-width="1.6"/>
<polyline points="165,272 165,267 168,267 168,272" fill="none" stroke="#0a0a0a" stroke-width="1.6"/>
<polygon points="67,11.5 71.2,11.5 71.7,110 73,110 73.7,276.5 68.3,276.5" fill="#0a0a0a"/>
<polygon points="67.5,272.5 504.6,272 504.6,276 67.5,276.5" fill="#0a0a0a"/>
<polyline points="67.0,12.3 502.3,10.2 503.8,274.0" fill="none" stroke="#0a0a0a" stroke-width="1.8" stroke-linejoin="miter"/>
<line x1="59.0" y1="13.8" x2="68.5" y2="13.8" stroke="#0a0a0a" stroke-width="2.2"/>
<line x1="59.0" y1="77.8" x2="68.5" y2="77.8" stroke="#0a0a0a" stroke-width="2.2"/>
<line x1="59.0" y1="143.3" x2="68.5" y2="143.3" stroke="#0a0a0a" stroke-width="2.2"/>
<line x1="59.0" y1="208.4" x2="68.5" y2="208.4" stroke="#0a0a0a" stroke-width="2.2"/>
<line x1="59.0" y1="273.9" x2="68.5" y2="273.9" stroke="#0a0a0a" stroke-width="2.2"/>
<line x1="62.7" y1="30.0" x2="68.5" y2="30.0" stroke="#0a0a0a" stroke-width="2"/>
<line x1="62.7" y1="41.7" x2="68.5" y2="41.7" stroke="#0a0a0a" stroke-width="2"/>
<line x1="62.7" y1="54.1" x2="68.5" y2="54.1" stroke="#0a0a0a" stroke-width="2"/>
<line x1="62.7" y1="65.9" x2="68.5" y2="65.9" stroke="#0a0a0a" stroke-width="2"/>
<line x1="62.7" y1="87.5" x2="68.5" y2="87.5" stroke="#0a0a0a" stroke-width="2"/>
<line x1="62.7" y1="101.8" x2="68.5" y2="101.8" stroke="#0a0a0a" stroke-width="2"/>
<line x1="62.7" y1="115.7" x2="68.5" y2="115.7" stroke="#0a0a0a" stroke-width="2"/>
<line x1="62.7" y1="129.2" x2="68.5" y2="129.2" stroke="#0a0a0a" stroke-width="2"/>
<line x1="62.7" y1="152.5" x2="68.5" y2="152.5" stroke="#0a0a0a" stroke-width="2"/>
<line x1="62.7" y1="166.8" x2="68.5" y2="166.8" stroke="#0a0a0a" stroke-width="2"/>
<line x1="62.7" y1="180.7" x2="68.5" y2="180.7" stroke="#0a0a0a" stroke-width="2"/>
<line x1="62.7" y1="193.7" x2="68.5" y2="193.7" stroke="#0a0a0a" stroke-width="2"/>
<line x1="62.7" y1="217.8" x2="68.5" y2="217.8" stroke="#0a0a0a" stroke-width="2"/>
<line x1="62.7" y1="232.7" x2="68.5" y2="232.7" stroke="#0a0a0a" stroke-width="2"/>
<line x1="62.7" y1="246.3" x2="68.5" y2="246.3" stroke="#0a0a0a" stroke-width="2"/>
<line x1="62.7" y1="260.4" x2="68.5" y2="260.4" stroke="#0a0a0a" stroke-width="2"/>
<line x1="71.3" y1="276.0" x2="71.3" y2="284.5" stroke="#0a0a0a" stroke-width="1.8"/>
<line x1="179.1" y1="275.9" x2="179.1" y2="284.4" stroke="#0a0a0a" stroke-width="1.8"/>
<line x1="286.8" y1="275.7" x2="286.8" y2="284.2" stroke="#0a0a0a" stroke-width="1.8"/>
<line x1="394.6" y1="275.6" x2="394.6" y2="284.1" stroke="#0a0a0a" stroke-width="1.8"/>
<line x1="502.3" y1="275.5" x2="502.3" y2="284.0" stroke="#0a0a0a" stroke-width="1.8"/>
<line x1="103.7" y1="276.0" x2="103.7" y2="281.0" stroke="#0a0a0a" stroke-width="1.5"/>
<line x1="122.7" y1="275.9" x2="122.7" y2="280.9" stroke="#0a0a0a" stroke-width="1.5"/>
<line x1="136.2" y1="275.9" x2="136.2" y2="280.9" stroke="#0a0a0a" stroke-width="1.5"/>
<line x1="146.6" y1="275.9" x2="146.6" y2="280.9" stroke="#0a0a0a" stroke-width="1.5"/>
<line x1="155.1" y1="275.9" x2="155.1" y2="280.9" stroke="#0a0a0a" stroke-width="1.5"/>
<line x1="162.4" y1="275.9" x2="162.4" y2="280.9" stroke="#0a0a0a" stroke-width="1.5"/>
<line x1="168.6" y1="275.9" x2="168.6" y2="280.9" stroke="#0a0a0a" stroke-width="1.5"/>
<line x1="174.1" y1="275.9" x2="174.1" y2="280.9" stroke="#0a0a0a" stroke-width="1.5"/>
<line x1="211.5" y1="275.8" x2="211.5" y2="280.8" stroke="#0a0a0a" stroke-width="1.5"/>
<line x1="230.5" y1="275.8" x2="230.5" y2="280.8" stroke="#0a0a0a" stroke-width="1.5"/>
<line x1="243.9" y1="275.8" x2="243.9" y2="280.8" stroke="#0a0a0a" stroke-width="1.5"/>
<line x1="254.4" y1="275.8" x2="254.4" y2="280.8" stroke="#0a0a0a" stroke-width="1.5"/>
<line x1="262.9" y1="275.8" x2="262.9" y2="280.8" stroke="#0a0a0a" stroke-width="1.5"/>
<line x1="270.1" y1="275.8" x2="270.1" y2="280.8" stroke="#0a0a0a" stroke-width="1.5"/>
<line x1="276.4" y1="275.8" x2="276.4" y2="280.8" stroke="#0a0a0a" stroke-width="1.5"/>
<line x1="281.9" y1="275.7" x2="281.9" y2="280.7" stroke="#0a0a0a" stroke-width="1.5"/>
<line x1="319.2" y1="275.7" x2="319.2" y2="280.7" stroke="#0a0a0a" stroke-width="1.5"/>
<line x1="338.2" y1="275.7" x2="338.2" y2="280.7" stroke="#0a0a0a" stroke-width="1.5"/>
<line x1="351.7" y1="275.7" x2="351.7" y2="280.7" stroke="#0a0a0a" stroke-width="1.5"/>
<line x1="362.1" y1="275.7" x2="362.1" y2="280.7" stroke="#0a0a0a" stroke-width="1.5"/>
<line x1="370.6" y1="275.6" x2="370.6" y2="280.6" stroke="#0a0a0a" stroke-width="1.5"/>
<line x1="377.9" y1="275.6" x2="377.9" y2="280.6" stroke="#0a0a0a" stroke-width="1.5"/>
<line x1="384.1" y1="275.6" x2="384.1" y2="280.6" stroke="#0a0a0a" stroke-width="1.5"/>
<line x1="389.6" y1="275.6" x2="389.6" y2="280.6" stroke="#0a0a0a" stroke-width="1.5"/>
<line x1="427.0" y1="275.6" x2="427.0" y2="280.6" stroke="#0a0a0a" stroke-width="1.5"/>
<line x1="446.0" y1="275.6" x2="446.0" y2="280.6" stroke="#0a0a0a" stroke-width="1.5"/>
<line x1="459.4" y1="275.5" x2="459.4" y2="280.5" stroke="#0a0a0a" stroke-width="1.5"/>
<line x1="469.9" y1="275.5" x2="469.9" y2="280.5" stroke="#0a0a0a" stroke-width="1.5"/>
<line x1="478.4" y1="275.5" x2="478.4" y2="280.5" stroke="#0a0a0a" stroke-width="1.5"/>
<line x1="485.6" y1="275.5" x2="485.6" y2="280.5" stroke="#0a0a0a" stroke-width="1.5"/>
<line x1="491.9" y1="275.5" x2="491.9" y2="280.5" stroke="#0a0a0a" stroke-width="1.5"/>
<line x1="497.4" y1="275.5" x2="497.4" y2="280.5" stroke="#0a0a0a" stroke-width="1.5"/>
<text transform="translate(53.0 12.7) rotate(-90)" font-size="23.7" text-anchor="middle" textLength="20.3" lengthAdjust="spacingAndGlyphs">40</text>
<text transform="translate(53.0 76.2) rotate(-90)" font-size="23.7" text-anchor="middle" textLength="20.3" lengthAdjust="spacingAndGlyphs">30</text>
<text transform="translate(53.0 141.6) rotate(-90)" font-size="23.7" text-anchor="middle" textLength="20.3" lengthAdjust="spacingAndGlyphs">20</text>
<text transform="translate(53.0 208.0) rotate(-90)" font-size="23.7" text-anchor="middle" textLength="20.3" lengthAdjust="spacingAndGlyphs">10</text>
<text transform="translate(53.0 271.6) rotate(-90)" font-size="23.7" text-anchor="middle" textLength="9.5" lengthAdjust="spacingAndGlyphs">0</text>
<text transform="translate(27.3 152.5) rotate(-90)" font-size="23.0" text-anchor="middle" textLength="58.5" lengthAdjust="spacingAndGlyphs">Counts</text>
<text x="73.2" y="310.0" font-size="22.8" text-anchor="end" textLength="19.8" lengthAdjust="spacingAndGlyphs">10</text>
<text x="77.2" y="297.0" font-size="21.0" textLength="10.0" lengthAdjust="spacingAndGlyphs">0</text>
<text x="181.1" y="309.5" font-size="22.8" text-anchor="end" textLength="19.8" lengthAdjust="spacingAndGlyphs">10</text>
<text x="184.4" y="296.5" font-size="21.0" textLength="10.0" lengthAdjust="spacingAndGlyphs">1</text>
<text x="288.9" y="309.0" font-size="22.8" text-anchor="end" textLength="19.8" lengthAdjust="spacingAndGlyphs">10</text>
<text x="291.7" y="296.0" font-size="21.0" textLength="10.0" lengthAdjust="spacingAndGlyphs">2</text>
<text x="396.7" y="308.5" font-size="22.8" text-anchor="end" textLength="19.8" lengthAdjust="spacingAndGlyphs">10</text>
<text x="398.9" y="295.5" font-size="21.0" textLength="10.0" lengthAdjust="spacingAndGlyphs">3</text>
<text x="504.6" y="308.0" font-size="22.8" text-anchor="end" textLength="19.8" lengthAdjust="spacingAndGlyphs">10</text>
<text x="506.2" y="295.0" font-size="21.0" textLength="10.0" lengthAdjust="spacingAndGlyphs">4</text>
<text x="231.5" y="331.0" font-size="22.0" textLength="91.2" lengthAdjust="spacingAndGlyphs">FL1-Height</text>
<text x="130.5" y="119.2" font-size="25.0" text-anchor="middle" stroke-width="0.7">1</text>
<text x="228.8" y="187.8" font-size="25.5" text-anchor="middle" stroke-width="0.7">2</text>
<text x="316.8" y="41.8" font-size="25.5" text-anchor="middle" stroke-width="0.7">3</text>
<text x="1.3" y="21.6" font-size="26.0" font-weight="bold">A</text>
<polygon points="148.5,645.0 148.5,638.0 148.5,638.0 151.0,638.0 151.0,631.0 153.5,631.0 153.5,631.0 156.0,631.0 156.0,631.0 158.5,631.0 158.5,631.0 161.0,631.0 161.0,631.0 163.4,631.0 163.4,625.0 165.9,625.0 165.9,626.4 168.4,626.4 168.4,627.6 170.9,627.6 170.9,626.7 173.4,626.7 173.4,626.0 175.9,626.0 175.9,626.0 178.4,626.0 178.4,625.3 180.9,625.3 180.9,623.8 183.4,623.8 183.4,621.3 185.9,621.3 185.9,616.9 188.3,616.9 188.3,620.1 190.8,620.1 190.8,623.0 193.3,623.0 193.3,623.0 195.8,623.0 195.8,621.0 198.3,621.0 198.3,618.2 200.8,618.2 200.8,617.3 203.3,617.3 203.3,616.9 205.8,616.9 205.8,612.2 208.3,612.2 208.3,616.8 210.8,616.8 210.8,618.5 213.2,618.5 213.2,620.0 215.7,620.0 215.7,609.0 218.2,609.0 218.2,607.0 220.7,607.0 220.7,608.2 223.2,608.2 223.2,611.5 225.7,611.5 225.7,613.7 228.2,613.7 228.2,609.5 230.7,609.5 230.7,604.8 233.2,604.8 233.2,600.0 235.7,600.0 235.7,600.6 238.2,600.6 238.2,600.7 240.6,600.7 240.6,597.1 243.1,597.1 243.1,596.7 245.6,596.7 245.6,597.5 248.1,597.5 248.1,576.0 250.6,576.0 250.6,567.5 253.1,567.5 253.1,575.2 255.6,575.2 255.6,575.8 258.1,575.8 258.1,574.3 260.6,574.3 260.6,573.7 263.1,573.7 263.1,573.7 265.5,573.7 265.5,581.0 268.0,581.0 268.0,588.7 270.5,588.7 270.5,578.2 273.0,578.2 273.0,573.0 275.5,573.0 275.5,569.9 278.0,569.9 278.0,566.1 280.5,566.1 280.5,562.0 283.0,562.0 283.0,559.0 285.5,559.0 285.5,560.5 288.0,560.5 288.0,557.4 290.5,557.4 290.5,553.7 292.9,553.7 292.9,558.7 295.4,558.7 295.4,552.7 297.9,552.7 297.9,540.0 300.4,540.0 300.4,538.1 302.9,538.1 302.9,537.0 305.4,537.0 305.4,530.8 307.9,530.8 307.9,534.0 310.4,534.0 310.4,527.7 312.9,527.7 312.9,529.1 315.4,529.1 315.4,543.3 317.8,543.3 317.8,521.5 320.3,521.5 320.3,510.7 322.8,510.7 322.8,507.6 325.3,507.6 325.3,534.0 327.8,534.0 327.8,530.8 330.3,530.8 330.3,540.0 332.8,540.0 332.8,537.0 335.3,537.0 335.3,543.3 337.8,543.3 337.8,534.0 340.3,534.0 340.3,549.4 342.8,549.4 342.8,555.6 345.2,555.6 345.2,563.6 347.7,563.6 347.7,570.0 350.2,570.0 350.2,577.0 352.7,577.0 352.7,585.0 355.2,585.0 355.2,592.8 357.7,592.8 357.7,605.0 360.2,605.0 360.2,610.0 362.7,610.0 362.7,608.4 365.2,608.4 365.2,606.0 367.7,606.0 367.7,609.6 370.1,609.6 370.1,612.9 372.6,612.9 372.6,616.2 375.1,616.2 375.1,619.5 377.6,619.5 377.6,623.5 380.1,623.5 380.1,627.7 382.6,627.7 382.6,629.5 385.1,629.5 385.1,631.3 387.6,631.3 387.6,633.8 390.1,633.8 390.1,635.7 392.6,635.7 392.6,633.2 395.0,633.2 395.0,631.0 397.5,631.0 397.5,636.0 400.0,636.0 400.0,636.6 402.5,636.6 402.5,637.2 405.0,637.2 405.0,645.0 407.5,645.0 407.5,645.0 407.5,645.0" fill="url(#st)" filter="url(#bl)"/>
<polyline points="148.5,638.0 148.5,638.0 151.0,638.0 151.0,631.0 153.5,631.0 153.5,631.0 156.0,631.0 156.0,631.0 158.5,631.0 158.5,631.0 161.0,631.0 161.0,631.0 163.4,631.0 163.4,625.0 165.9,625.0 165.9,626.4 168.4,626.4 168.4,627.6 170.9,627.6 170.9,626.7 173.4,626.7 173.4,626.0 175.9,626.0 175.9,626.0 178.4,626.0 178.4,625.3 180.9,625.3 180.9,623.8 183.4,623.8 183.4,621.3 185.9,621.3 185.9,616.9 188.3,616.9 188.3,620.1 190.8,620.1 190.8,623.0 193.3,623.0 193.3,623.0 195.8,623.0 195.8,621.0 198.3,621.0 198.3,618.2 200.8,618.2 200.8,617.3 203.3,617.3 203.3,616.9 205.8,616.9 205.8,612.2 208.3,612.2 208.3,616.8 210.8,616.8 210.8,618.5 213.2,618.5 213.2,620.0 215.7,620.0 215.7,609.0 218.2,609.0 218.2,607.0 220.7,607.0 220.7,608.2 223.2,608.2 223.2,611.5 225.7,611.5 225.7,613.7 228.2,613.7 228.2,609.5 230.7,609.5 230.7,604.8 233.2,604.8 233.2,600.0 235.7,600.0 235.7,600.6 238.2,600.6 238.2,600.7 240.6,600.7 240.6,597.1 243.1,597.1 243.1,596.7 245.6,596.7 245.6,597.5 248.1,597.5 248.1,576.0 250.6,576.0 250.6,567.5 253.1,567.5 253.1,575.2 255.6,575.2 255.6,575.8 258.1,575.8 258.1,574.3 260.6,574.3 260.6,573.7 263.1,573.7 263.1,573.7 265.5,573.7 265.5,581.0 268.0,581.0 268.0,588.7 270.5,588.7 270.5,578.2 273.0,578.2 273.0,573.0 275.5,573.0 275.5,569.9 278.0,569.9 278.0,566.1 280.5,566.1 280.5,562.0 283.0,562.0 283.0,559.0 285.5,559.0 285.5,560.5 288.0,560.5 288.0,557.4 290.5,557.4 290.5,553.7 292.9,553.7 292.9,558.7 295.4,558.7 295.4,552.7 297.9,552.7 297.9,540.0 300.4,540.0 300.4,538.1 302.9,538.1 302.9,537.0 305.4,537.0 305.4,530.8 307.9,530.8 307.9,534.0 310.4,534.0 310.4,527.7 312.9,527.7 312.9,529.1 315.4,529.1 315.4,543.3 317.8,543.3 317.8,521.5 320.3,521.5 320.3,510.7 322.8,510.7 322.8,507.6 325.3,507.6 325.3,534.0 327.8,534.0 327.8,530.8 330.3,530.8 330.3,540.0 332.8,540.0 332.8,537.0 335.3,537.0 335.3,543.3 337.8,543.3 337.8,534.0 340.3,534.0 340.3,549.4 342.8,549.4 342.8,555.6 345.2,555.6 345.2,563.6 347.7,563.6 347.7,570.0 350.2,570.0 350.2,577.0 352.7,577.0 352.7,585.0 355.2,585.0 355.2,592.8 357.7,592.8 357.7,605.0 360.2,605.0 360.2,610.0 362.7,610.0 362.7,608.4 365.2,608.4 365.2,606.0 367.7,606.0 367.7,609.6 370.1,609.6 370.1,612.9 372.6,612.9 372.6,616.2 375.1,616.2 375.1,619.5 377.6,619.5 377.6,623.5 380.1,623.5 380.1,627.7 382.6,627.7 382.6,629.5 385.1,629.5 385.1,631.3 387.6,631.3 387.6,633.8 390.1,633.8 390.1,635.7 392.6,635.7 392.6,633.2 395.0,633.2 395.0,631.0 397.5,631.0 397.5,636.0 400.0,636.0 400.0,636.6 402.5,636.6 402.5,637.2 405.0,637.2 405.0,645.0 407.5,645.0 407.5,645.0" fill="none" stroke="#0a0a0a" stroke-width="2.2" stroke-linejoin="miter"/>
<polyline points="243.7,597.5 243.7,597.5 246.2,597.5 246.2,610.2 248.6,610.2 248.6,614.8 251.1,614.8 251.1,618.7 253.6,618.7 253.6,622.5 256.1,622.5 256.1,616.7 258.5,616.7 258.5,613.2 261.0,613.2 261.0,614.8 263.5,614.8 263.5,617.6 265.9,617.6 265.9,623.3 268.4,623.3 268.4,626.4 270.9,626.4 270.9,627.5 273.4,627.5 273.4,630.5 275.8,630.5 275.8,632.8 278.3,632.8 278.3,633.6 280.8,633.6 280.8,631.2 283.3,631.2 283.3,633.0 285.7,633.0 285.7,630.3 288.2,630.3 288.2,631.5 290.7,631.5 290.7,634.0 293.1,634.0 293.1,634.6 295.6,634.6 295.6,636.3 298.1,636.3 298.1,636.1 300.6,636.1 300.6,635.9 303.0,635.9 303.0,637.2 305.5,637.2 305.5,632.6 308.0,632.6 308.0,632.9 310.4,632.9 310.4,632.8 312.9,632.8 312.9,633.4 315.4,633.4 315.4,637.5 317.9,637.5 317.9,638.1 320.3,638.1 320.3,636.3 322.8,636.3 322.8,635.4 325.3,635.4 325.3,635.9 327.8,635.9 327.8,637.5 330.2,637.5 330.2,632.5 332.7,632.5 332.7,633.1 335.2,633.1 335.2,637.4 337.6,637.4 337.6,637.3 340.1,637.3 340.1,636.6 342.6,636.6 342.6,636.3 345.1,636.3 345.1,636.2 347.5,636.2 347.5,638.4 350.0,638.4 350.0,645.0" fill="none" stroke="#0a0a0a" stroke-width="2.6"/>
<polyline points="276.0,637.5 276.0,637.5 278.6,637.5 278.6,626.2 281.3,626.2 281.3,623.6 283.9,623.6 283.9,612.5 286.6,612.5 286.6,607.5 289.2,607.5 289.2,596.7 291.9,596.7 291.9,592.5 294.5,592.5 294.6,576.1 297.2,576.1 297.2,571.0" fill="none" stroke="#0a0a0a" stroke-width="2.8"/>
<polyline points="94.0,638.0 94.0,637.8 96.0,637.8 96.0,637.5 98.0,637.5 98.0,625.0 100.0,625.0 100.0,631.0 102.0,631.0 102.0,625.0 104.1,625.0 104.1,617.5 106.1,617.5 106.1,631.0 108.1,631.0 108.1,617.5 110.1,617.5 110.1,623.7 112.1,623.7 112.1,617.5 114.1,617.5 114.1,625.0 116.1,625.0 116.1,617.5 118.1,617.5 118.1,615.0 120.2,615.0 120.2,610.8 122.2,610.8 122.2,607.5 124.2,607.5 124.2,597.5 126.2,597.5 126.2,599.3 128.2,599.3 128.2,601.8 130.2,601.8 130.2,603.7 132.2,603.7 132.2,598.7 134.2,598.7 134.2,585.8 136.2,585.8 136.2,583.3 138.3,583.3 138.3,579.3 140.3,579.3 140.3,573.4 142.3,573.4 142.3,568.7 144.3,568.7 144.3,565.2 146.3,565.2 146.3,567.2 148.3,567.2 148.3,559.5 150.3,559.5 150.3,540.8 152.3,540.8 152.3,547.0 154.4,547.0 154.4,543.3 156.4,543.3 156.4,539.3 158.4,539.3 158.4,517.6 160.4,517.6 160.4,522.2 162.4,522.2 162.4,514.5 164.4,514.5 164.4,513.7 166.4,513.7 166.4,512.9 168.4,512.9 168.4,491.5 170.4,491.5 170.4,480.3 172.5,480.3 172.5,486.5 174.5,486.5 174.5,479.1 176.5,479.1 176.5,468.5 178.5,468.5 178.5,486.5 180.5,486.5 180.5,488.5 182.5,488.5 182.5,491.2 184.5,491.2 184.5,502.0 186.5,502.0 186.5,494.3 188.6,494.3 188.6,500.8 190.6,500.8 190.6,506.7 192.6,506.7 192.6,514.5 194.6,514.5 194.6,511.4 196.6,511.4 196.6,530.0 198.6,530.0 198.6,539.3 200.6,539.3 200.6,542.6 202.6,542.6 202.6,547.0 204.7,547.0 204.7,542.4 206.7,542.4 206.7,550.4 208.7,550.4 208.7,560.5 210.7,560.5 210.7,563.5 212.7,563.5 212.7,566.6 214.7,566.6 214.7,569.4 216.7,569.4 216.7,571.9 218.7,571.9 218.7,573.4 220.7,573.4 220.7,583.4 222.8,583.4 222.8,588.5 224.8,588.5 224.8,592.9 226.8,592.9 226.8,595.9 228.8,595.9 228.8,595.2 230.8,595.2 230.8,593.2 232.8,593.2 232.8,592.8 234.8,592.8 234.8,594.9 236.8,594.9 236.8,596.4 238.9,596.4 238.9,594.4 240.9,594.4 240.9,592.3 242.9,592.3 242.9,592.0 244.9,592.0 244.9,592.0 246.9,592.0 246.9,592.0" fill="none" stroke="#0a0a0a" stroke-width="1.5"/>
<polyline points="297.2,571.0 297.2,571.0 299.2,571.0 299.2,546.9 301.2,546.9 301.2,539.4 303.2,539.4 303.2,535.6 305.2,535.6 305.2,520.5 307.2,520.5 307.2,508.3 309.2,508.3 309.2,506.8 311.2,506.8 311.2,506.0 313.2,506.0 313.2,490.5 315.2,490.5 315.2,475.0 317.2,475.0 317.2,473.8 319.2,473.8 319.2,462.6 321.2,462.6 321.2,444.0 323.2,444.0 323.2,435.8 325.2,435.8 325.2,428.4 327.2,428.4 327.2,420.7 329.1,420.7 329.1,414.5 331.1,414.5 331.1,431.5 333.1,431.5 333.1,447.0 335.1,447.0 335.1,453.8 337.1,453.8 337.1,462.6 339.1,462.6 339.1,478.0 341.1,478.0 341.1,496.7 343.1,496.7 343.1,506.0 345.1,506.0 345.1,499.8 347.1,499.8 347.1,509.0 349.1,509.0 349.1,509.0 351.1,509.0 351.1,509.0 353.1,509.0 353.1,521.5 355.1,521.5 355.1,525.9 357.1,525.9 357.1,529.4 359.1,529.4 359.1,527.5 361.1,527.5 361.1,540.0 363.1,540.0 363.1,545.3 365.1,545.3 365.1,550.0 367.1,550.0 367.1,540.0 369.1,540.0 369.1,557.5 371.1,557.5 371.1,563.7 373.1,563.7 373.1,566.0 375.1,566.0 375.1,570.0 377.1,570.0 377.1,582.5 379.1,582.5 379.1,567.5 381.1,567.5 381.1,580.0 383.1,580.0 383.1,582.1 385.1,582.1 385.1,586.2 387.1,586.2 387.1,595.0 389.1,595.0 389.1,602.5 391.1,602.5 391.1,592.5 393.1,592.5 393.1,595.6 395.0,595.6 395.0,600.9 397.0,600.9 397.0,604.0 399.0,604.0 399.0,609.5 401.0,609.5 401.0,615.0 403.0,615.0 403.0,597.5 405.0,597.5 405.0,605.2 407.0,605.2 407.0,617.5 409.0,617.5 409.0,623.7 411.0,623.7 411.0,625.0 413.0,625.0 413.0,627.5 415.0,627.5 415.0,631.3 417.0,631.3 417.0,635.1 419.0,635.1 419.0,635.7 421.0,635.7 421.0,637.0 423.0,637.0 423.0,638.7 425.0,638.7 425.0,645.0" fill="none" stroke="#0a0a0a" stroke-width="1.5"/>
<polyline points="150.4,645 150.4,638.3 154.0,638.3 154.0,645" fill="none" stroke="#0a0a0a" stroke-width="1.7"/>
<polyline points="155.5,645 155.5,638.3 163.0,638.3 163.0,645" fill="none" stroke="#0a0a0a" stroke-width="1.7"/>
<polyline points="167.7,645 167.7,638.3 171.2,638.3 171.2,645" fill="none" stroke="#0a0a0a" stroke-width="1.7"/>
<polyline points="172.6,645 172.6,638.3 175.0,638.3 175.0,645" fill="none" stroke="#0a0a0a" stroke-width="1.7"/>
<polyline points="176.4,645 176.4,638.3 182.7,638.3 182.7,645" fill="none" stroke="#0a0a0a" stroke-width="1.7"/>
<polyline points="185.0,645 185.0,638.3 195.4,638.3 195.4,645" fill="none" stroke="#0a0a0a" stroke-width="1.7"/>
<polyline points="197.0,645 197.0,638.3 201.2,638.3 201.2,645" fill="none" stroke="#0a0a0a" stroke-width="1.7"/>
<polyline points="203.0,645 203.0,638.3 218.5,638.3 218.5,645" fill="none" stroke="#0a0a0a" stroke-width="1.7"/>
<polyline points="220.5,645 220.5,638.3 229.0,638.3 229.0,645" fill="none" stroke="#0a0a0a" stroke-width="1.7"/>
<polyline points="231.0,645 231.0,638.3 243.0,638.3 243.0,645" fill="none" stroke="#0a0a0a" stroke-width="1.7"/>
<polyline points="245.0,645 245.0,638.3 250.0,638.3 250.0,645" fill="none" stroke="#0a0a0a" stroke-width="1.7"/>
<polygon points="70,598 72,611 73.6,626 74.4,645 70,645" fill="#0a0a0a"/>
<polyline points="74.0,645 74.0,638.3 84.0,638.3 84.0,645" fill="none" stroke="#0a0a0a" stroke-width="1.8"/>
<polyline points="86.0,645 86.0,638.3 97.0,638.3 97.0,645" fill="none" stroke="#0a0a0a" stroke-width="1.8"/>
<polyline points="99.0,645 99.0,638.3 108.0,638.3 108.0,645" fill="none" stroke="#0a0a0a" stroke-width="1.8"/>
<polyline points="110.0,645 110.0,638.3 121.0,638.3 121.0,645" fill="url(#st)" stroke="#0a0a0a" stroke-width="1.8"/>
<polyline points="123.0,645 123.0,638.3 132.0,638.3 132.0,645" fill="none" stroke="#0a0a0a" stroke-width="1.8"/>
<polyline points="134.0,645 134.0,638.3 148.5,638.3 148.5,645" fill="url(#st)" stroke="#0a0a0a" stroke-width="1.8"/>
<polyline points="336,645 336,637 349,637 349,645" fill="none" stroke="#0a0a0a" stroke-width="1.8"/>
<polyline points="420,645 420,638.5 424.5,638.5 424.5,645" fill="none" stroke="#0a0a0a" stroke-width="1.6"/>
<polyline points="251,645 251,636.5 265,636.5 265,645" fill="none" stroke="#0a0a0a" stroke-width="1.8"/>
<polygon points="68,384.4 70.7,384.4 71.5,647.6 68.8,647.6" fill="#0a0a0a"/>
<polygon points="68.5,643.4 505.6,642.8 505.6,646.9 68.5,647.6" fill="#0a0a0a"/>
<polyline points="68.0,385.3 503.7,383.4 504.7,645.0" fill="none" stroke="#0a0a0a" stroke-width="2.1" stroke-linejoin="miter"/>
<line x1="59.6" y1="387.5" x2="69.5" y2="387.5" stroke="#0a0a0a" stroke-width="2.2"/>
<line x1="59.6" y1="451.3" x2="69.5" y2="451.3" stroke="#0a0a0a" stroke-width="2.2"/>
<line x1="59.6" y1="516.6" x2="69.5" y2="516.6" stroke="#0a0a0a" stroke-width="2.2"/>
<line x1="59.6" y1="580.5" x2="69.5" y2="580.5" stroke="#0a0a0a" stroke-width="2.2"/>
<line x1="59.6" y1="644.8" x2="69.5" y2="644.8" stroke="#0a0a0a" stroke-width="2.2"/>
<line x1="63.5" y1="398.1" x2="69.5" y2="398.1" stroke="#0a0a0a" stroke-width="2"/>
<line x1="63.5" y1="410.8" x2="69.5" y2="410.8" stroke="#0a0a0a" stroke-width="2"/>
<line x1="63.5" y1="425.0" x2="69.5" y2="425.0" stroke="#0a0a0a" stroke-width="2"/>
<line x1="63.5" y1="438.3" x2="69.5" y2="438.3" stroke="#0a0a0a" stroke-width="2"/>
<line x1="63.5" y1="461.5" x2="69.5" y2="461.5" stroke="#0a0a0a" stroke-width="2"/>
<line x1="63.5" y1="474.6" x2="69.5" y2="474.6" stroke="#0a0a0a" stroke-width="2"/>
<line x1="63.5" y1="488.7" x2="69.5" y2="488.7" stroke="#0a0a0a" stroke-width="2"/>
<line x1="63.5" y1="502.1" x2="69.5" y2="502.1" stroke="#0a0a0a" stroke-width="2"/>
<line x1="63.5" y1="526.1" x2="69.5" y2="526.1" stroke="#0a0a0a" stroke-width="2"/>
<line x1="63.5" y1="539.6" x2="69.5" y2="539.6" stroke="#0a0a0a" stroke-width="2"/>
<line x1="63.5" y1="553.0" x2="69.5" y2="553.0" stroke="#0a0a0a" stroke-width="2"/>
<line x1="63.5" y1="566.4" x2="69.5" y2="566.4" stroke="#0a0a0a" stroke-width="2"/>
<line x1="63.5" y1="590.0" x2="69.5" y2="590.0" stroke="#0a0a0a" stroke-width="2"/>
<line x1="63.5" y1="603.9" x2="69.5" y2="603.9" stroke="#0a0a0a" stroke-width="2"/>
<line x1="63.5" y1="617.3" x2="69.5" y2="617.3" stroke="#0a0a0a" stroke-width="2"/>
<line x1="63.5" y1="631.4" x2="69.5" y2="631.4" stroke="#0a0a0a" stroke-width="2"/>
<line x1="71.0" y1="647.3" x2="71.0" y2="655.8" stroke="#0a0a0a" stroke-width="1.8"/>
<line x1="178.9" y1="647.1" x2="178.9" y2="655.6" stroke="#0a0a0a" stroke-width="1.8"/>
<line x1="286.8" y1="647.0" x2="286.8" y2="655.5" stroke="#0a0a0a" stroke-width="1.8"/>
<line x1="394.7" y1="646.8" x2="394.7" y2="655.3" stroke="#0a0a0a" stroke-width="1.8"/>
<line x1="502.6" y1="646.7" x2="502.6" y2="655.2" stroke="#0a0a0a" stroke-width="1.8"/>
<line x1="103.5" y1="647.3" x2="103.5" y2="652.3" stroke="#0a0a0a" stroke-width="1.5"/>
<line x1="122.5" y1="647.2" x2="122.5" y2="652.2" stroke="#0a0a0a" stroke-width="1.5"/>
<line x1="136.0" y1="647.2" x2="136.0" y2="652.2" stroke="#0a0a0a" stroke-width="1.5"/>
<line x1="146.4" y1="647.2" x2="146.4" y2="652.2" stroke="#0a0a0a" stroke-width="1.5"/>
<line x1="155.0" y1="647.2" x2="155.0" y2="652.2" stroke="#0a0a0a" stroke-width="1.5"/>
<line x1="162.2" y1="647.2" x2="162.2" y2="652.2" stroke="#0a0a0a" stroke-width="1.5"/>
<line x1="168.4" y1="647.2" x2="168.4" y2="652.2" stroke="#0a0a0a" stroke-width="1.5"/>
<line x1="174.0" y1="647.1" x2="174.0" y2="652.1" stroke="#0a0a0a" stroke-width="1.5"/>
<line x1="211.4" y1="647.1" x2="211.4" y2="652.1" stroke="#0a0a0a" stroke-width="1.5"/>
<line x1="230.4" y1="647.1" x2="230.4" y2="652.1" stroke="#0a0a0a" stroke-width="1.5"/>
<line x1="243.9" y1="647.0" x2="243.9" y2="652.0" stroke="#0a0a0a" stroke-width="1.5"/>
<line x1="254.3" y1="647.0" x2="254.3" y2="652.0" stroke="#0a0a0a" stroke-width="1.5"/>
<line x1="262.9" y1="647.0" x2="262.9" y2="652.0" stroke="#0a0a0a" stroke-width="1.5"/>
<line x1="270.1" y1="647.0" x2="270.1" y2="652.0" stroke="#0a0a0a" stroke-width="1.5"/>
<line x1="276.3" y1="647.0" x2="276.3" y2="652.0" stroke="#0a0a0a" stroke-width="1.5"/>
<line x1="281.9" y1="647.0" x2="281.9" y2="652.0" stroke="#0a0a0a" stroke-width="1.5"/>
<line x1="319.3" y1="646.9" x2="319.3" y2="651.9" stroke="#0a0a0a" stroke-width="1.5"/>
<line x1="338.3" y1="646.9" x2="338.3" y2="651.9" stroke="#0a0a0a" stroke-width="1.5"/>
<line x1="351.8" y1="646.9" x2="351.8" y2="651.9" stroke="#0a0a0a" stroke-width="1.5"/>
<line x1="362.2" y1="646.9" x2="362.2" y2="651.9" stroke="#0a0a0a" stroke-width="1.5"/>
<line x1="370.8" y1="646.9" x2="370.8" y2="651.9" stroke="#0a0a0a" stroke-width="1.5"/>
<line x1="378.0" y1="646.8" x2="378.0" y2="651.8" stroke="#0a0a0a" stroke-width="1.5"/>
<line x1="384.2" y1="646.8" x2="384.2" y2="651.8" stroke="#0a0a0a" stroke-width="1.5"/>
<line x1="389.8" y1="646.8" x2="389.8" y2="651.8" stroke="#0a0a0a" stroke-width="1.5"/>
<line x1="427.2" y1="646.8" x2="427.2" y2="651.8" stroke="#0a0a0a" stroke-width="1.5"/>
<line x1="446.2" y1="646.7" x2="446.2" y2="651.7" stroke="#0a0a0a" stroke-width="1.5"/>
<line x1="459.7" y1="646.7" x2="459.7" y2="651.7" stroke="#0a0a0a" stroke-width="1.5"/>
<line x1="470.1" y1="646.7" x2="470.1" y2="651.7" stroke="#0a0a0a" stroke-width="1.5"/>
<line x1="478.7" y1="646.7" x2="478.7" y2="651.7" stroke="#0a0a0a" stroke-width="1.5"/>
<line x1="485.9" y1="646.7" x2="485.9" y2="651.7" stroke="#0a0a0a" stroke-width="1.5"/>
<line x1="492.1" y1="646.7" x2="492.1" y2="651.7" stroke="#0a0a0a" stroke-width="1.5"/>
<line x1="497.7" y1="646.7" x2="497.7" y2="651.7" stroke="#0a0a0a" stroke-width="1.5"/>
<text transform="translate(54.3 384.4) rotate(-90)" font-size="21.6" text-anchor="middle" textLength="17.4" lengthAdjust="spacingAndGlyphs">40</text>
<text transform="translate(54.3 449.5) rotate(-90)" font-size="21.6" text-anchor="middle" textLength="17.4" lengthAdjust="spacingAndGlyphs">30</text>
<text transform="translate(54.3 513.4) rotate(-90)" font-size="21.6" text-anchor="middle" textLength="17.4" lengthAdjust="spacingAndGlyphs">20</text>
<text transform="translate(54.3 577.3) rotate(-90)" font-size="21.6" text-anchor="middle" textLength="17.4" lengthAdjust="spacingAndGlyphs">10</text>
<text transform="translate(54.3 641.2) rotate(-90)" font-size="21.6" text-anchor="middle" textLength="8.2" lengthAdjust="spacingAndGlyphs">0</text>
<text transform="translate(27.3 517.6) rotate(-90)" font-size="23.0" text-anchor="middle" textLength="57.0" lengthAdjust="spacingAndGlyphs">Counts</text>
<text x="74.5" y="680.0" font-size="21.8" text-anchor="end" textLength="16.0" lengthAdjust="spacingAndGlyphs">10</text>
<text x="76.6" y="666.8" font-size="22.3" textLength="9.8" lengthAdjust="spacingAndGlyphs">0</text>
<text x="182.1" y="679.8" font-size="21.8" text-anchor="end" textLength="16.0" lengthAdjust="spacingAndGlyphs">10</text>
<text x="184.1" y="666.6" font-size="22.3" textLength="9.8" lengthAdjust="spacingAndGlyphs">1</text>
<text x="289.7" y="679.6" font-size="21.8" text-anchor="end" textLength="16.0" lengthAdjust="spacingAndGlyphs">10</text>
<text x="291.6" y="666.4" font-size="22.3" textLength="9.8" lengthAdjust="spacingAndGlyphs">2</text>
<text x="397.3" y="679.4" font-size="21.8" text-anchor="end" textLength="16.0" lengthAdjust="spacingAndGlyphs">10</text>
<text x="399.1" y="666.2" font-size="22.3" textLength="9.8" lengthAdjust="spacingAndGlyphs">3</text>
<text x="504.9" y="679.1" font-size="21.8" text-anchor="end" textLength="16.0" lengthAdjust="spacingAndGlyphs">10</text>
<text x="506.6" y="665.9" font-size="22.3" textLength="9.8" lengthAdjust="spacingAndGlyphs">4</text>
<text x="243.0" y="701.0" font-size="21.3" textLength="90.0" lengthAdjust="spacingAndGlyphs">FL1-Height</text>
<text x="175.5" y="460.4" font-size="24.5" text-anchor="middle" stroke-width="0.7">1</text>
<text x="324.8" y="500.6" font-size="25.2" text-anchor="middle" stroke-width="0.7">2</text>
<text x="328.8" y="409.2" font-size="24.5" text-anchor="middle" stroke-width="0.7">3</text>
<text x="1.5" y="394.5" font-size="24.0" font-weight="bold">B</text>
</svg></body></html>
